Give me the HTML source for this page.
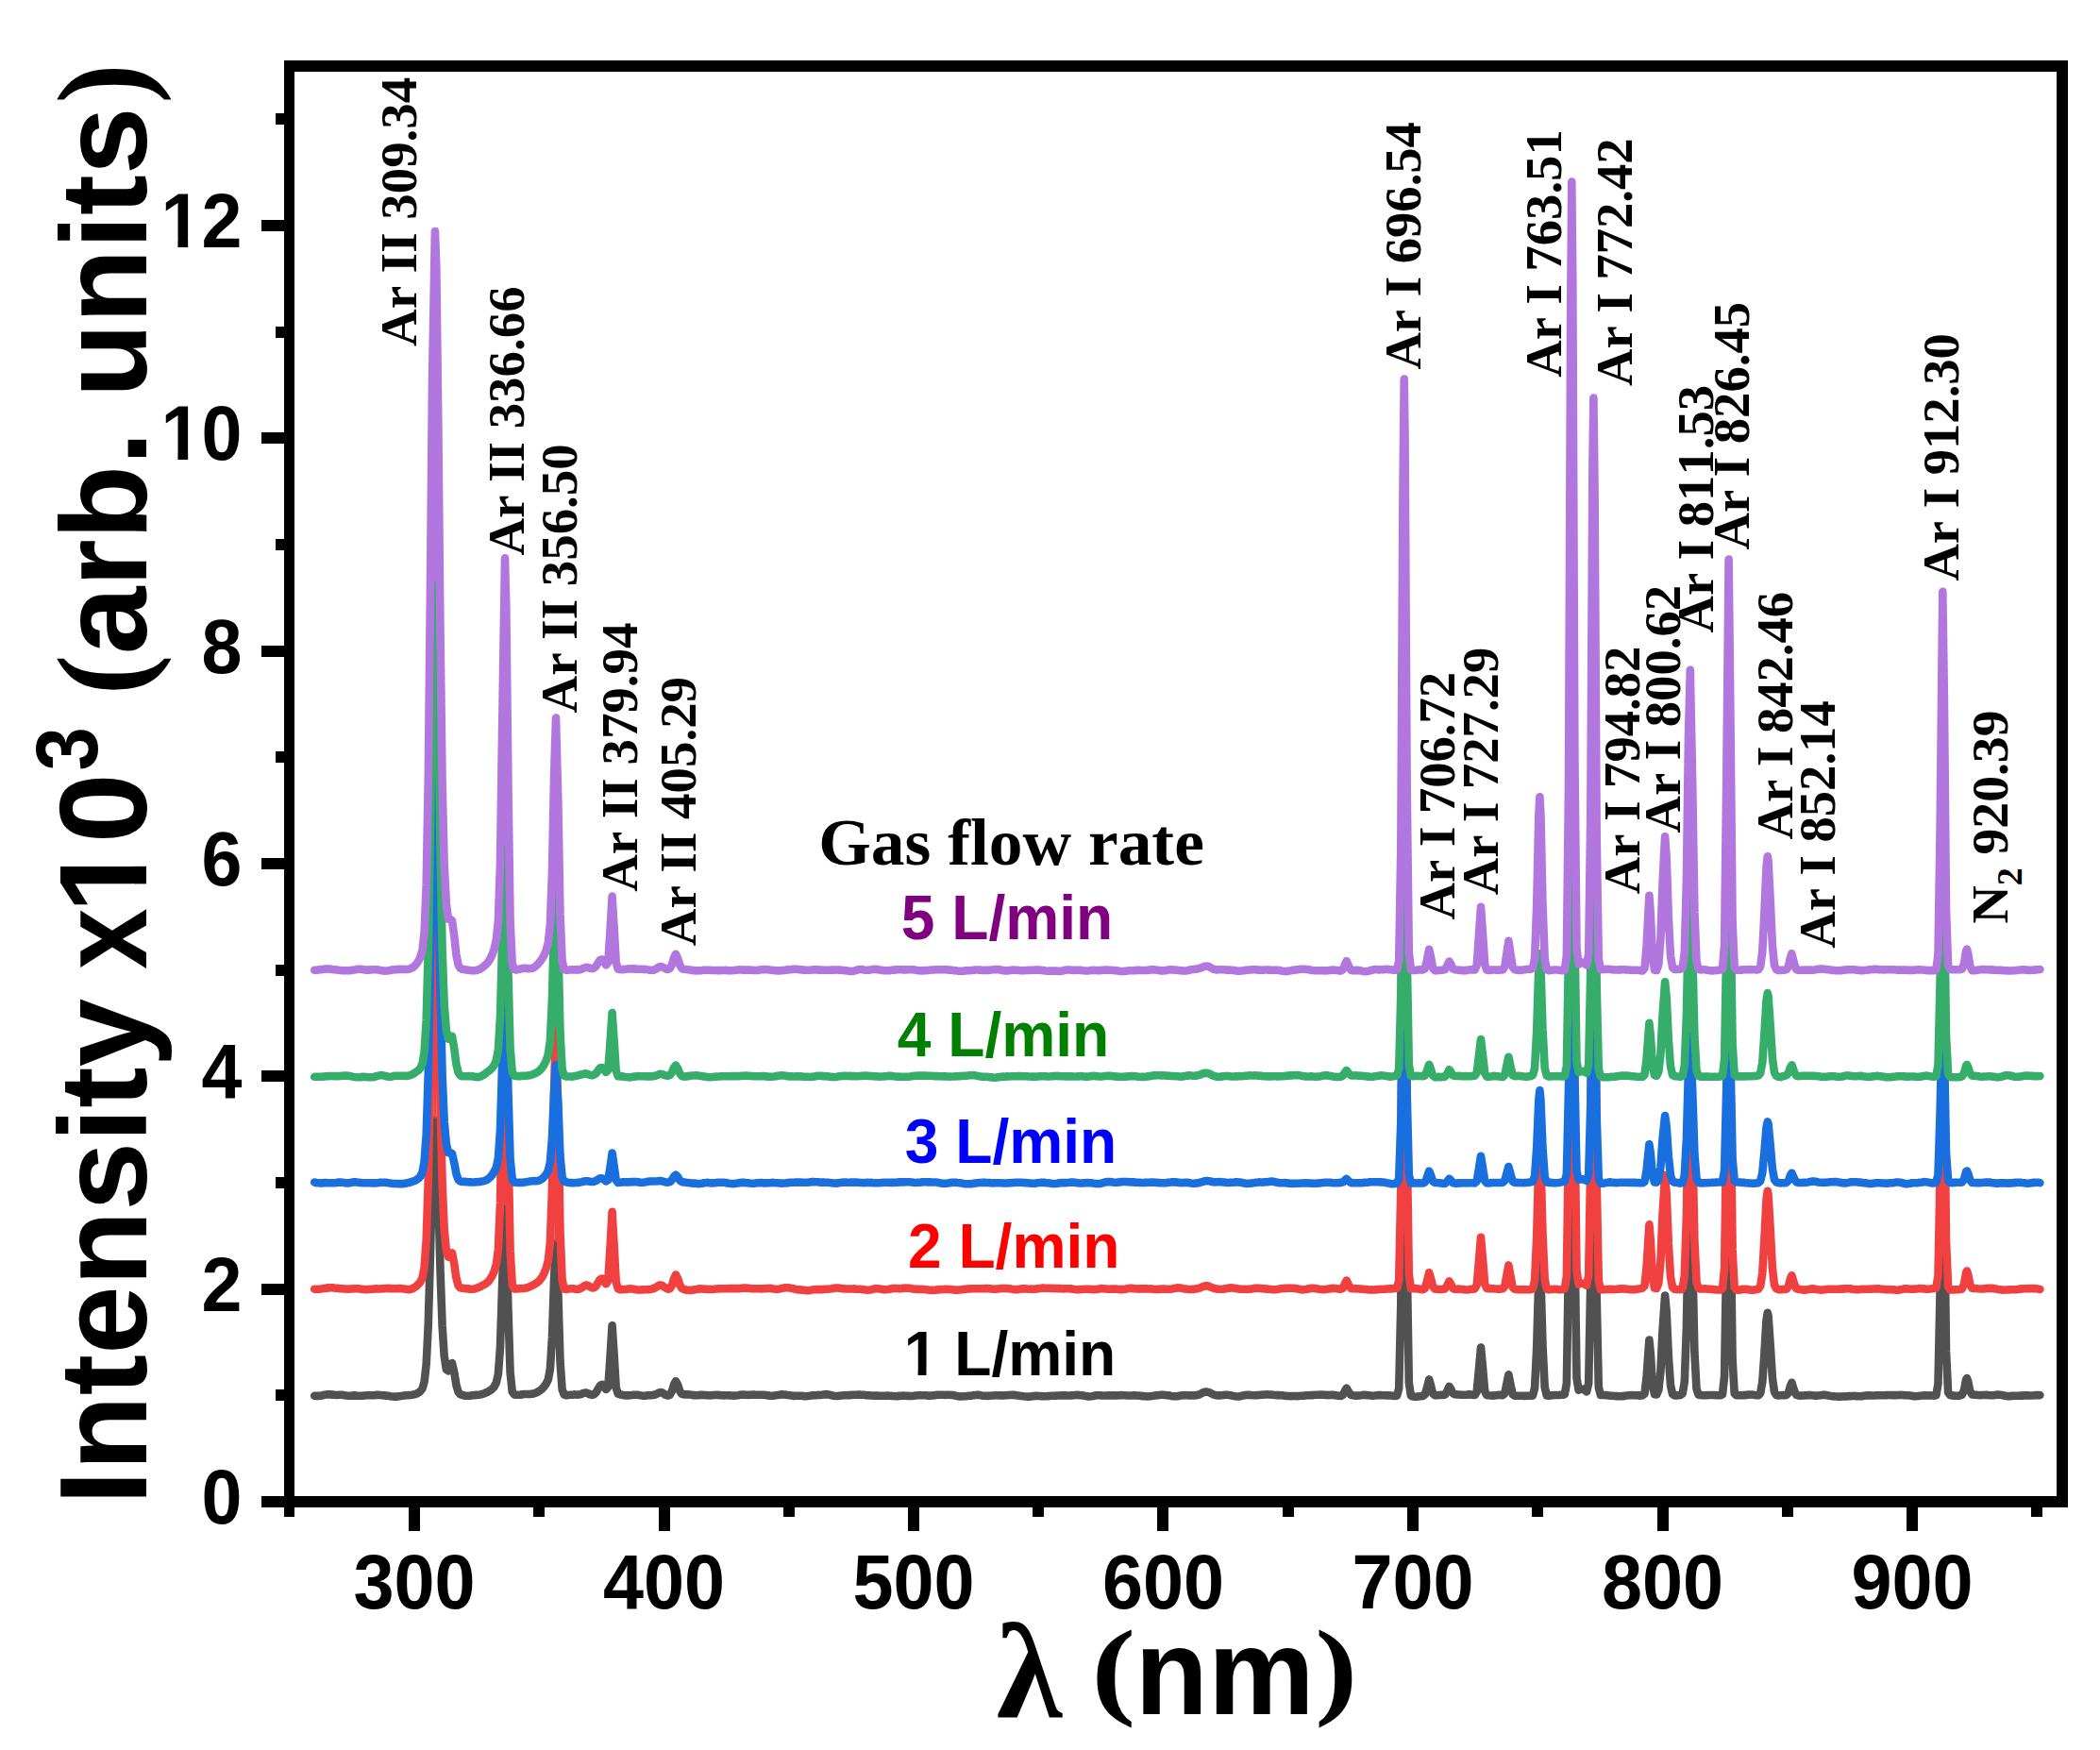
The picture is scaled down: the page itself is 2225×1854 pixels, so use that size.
<!DOCTYPE html>
<html lang="en"><head><meta charset="utf-8"><title>Optical emission spectra</title>
<style>html,body{margin:0;padding:0;background:#fff}body{width:2225px;height:1854px;overflow:hidden}svg{display:block}text{font-kerning:none}</style></head><body>
<svg width="2225" height="1854" viewBox="0 0 2225 1854">
<rect width="2225" height="1854" fill="#fff"/>
<g id="curves">
<polyline fill="none" stroke="#515151" stroke-width="8.6" stroke-linejoin="round" stroke-linecap="round" points="333.2,1478.7 335.3,1478.9 337.4,1478.9 339.5,1478.7 341.7,1478.3 343.8,1477.8 345.9,1477.4 348.0,1477.2 350.1,1477.4 352.2,1477.6 354.4,1477.8 356.5,1478.0 358.6,1477.8 360.7,1477.8 362.8,1477.8 364.9,1478.2 367.1,1478.5 369.2,1478.7 371.3,1478.8 373.4,1478.6 375.5,1478.4 377.6,1478.6 379.8,1478.7 381.9,1478.7 384.0,1478.8 386.1,1478.5 388.2,1478.3 390.3,1478.3 392.4,1478.3 394.6,1478.2 396.7,1478.1 398.8,1477.9 400.9,1477.8 403.0,1478.0 405.1,1478.2 407.3,1478.4 409.4,1478.6 411.5,1478.8 413.6,1479.2 415.7,1479.5 417.8,1479.6 420.0,1479.6 422.1,1479.4 424.2,1479.0 426.3,1478.8 428.4,1478.5 430.5,1478.2 432.7,1478.1 434.8,1478.0 436.9,1477.7 439.0,1477.3 441.1,1476.7 443.2,1475.5 445.3,1474.0 447.5,1471.1 449.6,1463.9 451.7,1444.9 453.8,1402.2 455.9,1330.2 458.0,1245.9 460.9,1186.5 462.3,1200.4 464.4,1265.5 466.5,1345.2 468.6,1404.5 470.7,1436.7 472.9,1450.8 475.0,1452.4 477.1,1446.3 479.0,1444.1 481.3,1454.1 483.4,1467.2 485.6,1474.7 487.7,1477.2 489.8,1477.9 491.9,1478.5 494.0,1478.8 496.1,1478.8 498.2,1478.7 500.4,1478.3 502.5,1478.1 504.6,1477.9 506.7,1477.7 508.8,1477.5 510.9,1477.0 513.1,1476.2 515.2,1475.3 517.3,1474.3 519.4,1473.1 521.5,1471.5 523.6,1469.1 525.8,1465.0 527.9,1455.6 530.0,1426.9 532.1,1361.3 535.0,1277.5 536.3,1300.4 538.5,1389.4 540.6,1454.0 542.7,1474.3 544.8,1477.5 546.9,1477.8 549.0,1477.7 551.1,1477.6 553.3,1477.4 555.4,1477.0 557.5,1477.0 559.6,1477.0 561.7,1476.9 563.8,1476.7 566.0,1476.2 568.1,1475.5 570.2,1474.4 572.3,1473.0 574.4,1471.3 576.5,1468.9 578.7,1465.9 580.8,1461.6 582.9,1450.3 585.0,1416.2 587.1,1354.2 589.0,1316.9 591.4,1371.6 593.5,1442.1 595.6,1472.0 597.7,1477.6 599.8,1478.2 601.9,1478.0 604.0,1477.8 606.2,1477.7 608.3,1477.4 610.4,1477.5 612.5,1477.6 614.6,1477.3 616.7,1476.6 618.9,1475.7 621.0,1475.4 623.1,1476.2 625.2,1477.4 627.3,1477.9 629.4,1477.4 631.6,1475.1 633.7,1471.4 635.8,1468.0 637.9,1466.8 640.0,1468.8 642.1,1472.0 644.3,1469.6 646.4,1439.8 648.6,1404.2 650.6,1435.0 652.7,1469.9 654.8,1476.7 656.9,1477.3 659.1,1477.8 661.2,1478.2 663.3,1478.4 665.4,1478.4 667.5,1478.2 669.6,1478.0 671.8,1477.8 673.9,1477.8 676.0,1477.9 678.1,1478.3 680.2,1478.6 682.3,1478.7 684.5,1478.6 686.6,1478.3 688.7,1478.2 690.8,1478.1 692.9,1477.8 695.0,1477.2 697.2,1476.0 699.3,1475.1 701.4,1475.3 703.5,1476.7 705.6,1477.9 707.7,1478.5 709.8,1477.7 712.0,1473.7 714.1,1466.8 716.0,1463.2 718.3,1467.6 720.4,1474.0 722.5,1476.9 724.7,1477.4 726.8,1477.3 728.9,1477.4 731.0,1477.5 733.1,1477.9 735.2,1478.1 737.4,1478.2 739.5,1478.1 741.6,1477.9 743.7,1477.7 745.8,1478.0 747.9,1478.1 750.1,1478.3 752.2,1478.4 754.3,1478.1 756.4,1478.0 758.5,1477.8 760.6,1477.9 762.7,1478.1 764.9,1478.3 767.0,1478.4 769.1,1478.3 771.2,1478.3 773.3,1478.4 775.4,1478.5 777.6,1478.6 779.7,1478.5 781.8,1478.2 783.9,1477.8 786.0,1477.6 788.1,1477.6 790.3,1477.7 792.4,1477.9 794.5,1477.7 796.6,1477.6 798.7,1477.6 800.8,1477.7 803.0,1477.8 805.1,1477.8 807.2,1477.8 809.3,1477.8 811.4,1478.1 813.5,1478.4 815.6,1478.6 817.8,1478.7 819.9,1478.6 822.0,1478.3 824.1,1478.0 826.2,1477.6 828.3,1477.4 830.5,1477.5 832.6,1477.6 834.7,1478.0 836.8,1478.3 838.9,1478.6 841.0,1478.9 843.2,1478.7 845.3,1478.7 847.4,1478.7 849.5,1478.7 851.6,1479.1 853.7,1479.2 855.9,1479.0 858.0,1478.8 860.1,1478.4 862.2,1478.2 864.3,1478.2 866.4,1477.9 868.5,1478.0 870.7,1477.7 872.8,1477.4 874.9,1477.4 877.0,1477.3 879.1,1477.7 881.2,1478.3 883.4,1478.7 885.5,1479.0 887.6,1479.0 889.7,1478.6 891.8,1478.5 893.9,1478.3 896.1,1478.2 898.2,1478.1 900.3,1478.1 902.4,1477.9 904.5,1477.8 906.6,1477.7 908.8,1477.5 910.9,1477.6 913.0,1477.7 915.1,1477.8 917.2,1478.1 919.3,1478.3 921.4,1478.4 923.6,1478.5 925.7,1478.6 927.8,1478.6 929.9,1478.6 932.0,1478.7 934.1,1478.8 936.3,1478.8 938.4,1478.8 940.5,1478.6 942.6,1478.7 944.7,1478.9 946.8,1479.0 949.0,1479.3 951.1,1479.1 953.2,1478.9 955.3,1478.8 957.4,1478.6 959.5,1478.8 961.7,1478.9 963.8,1479.0 965.9,1479.0 968.0,1478.8 970.1,1478.5 972.2,1478.3 974.3,1478.2 976.5,1478.3 978.6,1478.3 980.7,1478.3 982.8,1478.6 984.9,1478.6 987.0,1478.5 989.2,1478.4 991.3,1478.1 993.4,1477.8 995.5,1477.7 997.6,1477.8 999.7,1477.8 1001.9,1478.0 1004.0,1477.8 1006.1,1477.7 1008.2,1478.0 1010.3,1478.1 1012.4,1478.7 1014.6,1479.1 1016.7,1479.4 1018.8,1479.5 1020.9,1479.3 1023.0,1479.2 1025.1,1478.9 1027.2,1478.8 1029.4,1478.7 1031.5,1478.1 1033.6,1478.0 1035.7,1477.9 1037.8,1477.9 1039.9,1478.4 1042.1,1478.7 1044.2,1478.8 1046.3,1478.9 1048.4,1478.7 1050.5,1478.5 1052.6,1478.5 1054.8,1478.2 1056.9,1478.3 1059.0,1478.4 1061.1,1478.3 1063.2,1478.5 1065.3,1478.3 1067.5,1478.1 1069.6,1478.0 1071.7,1477.8 1073.8,1477.9 1075.9,1478.1 1078.0,1478.4 1080.1,1478.7 1082.3,1479.0 1084.4,1479.3 1086.5,1479.5 1088.6,1479.6 1090.7,1479.7 1092.8,1479.3 1095.0,1479.1 1097.1,1478.9 1099.2,1478.8 1101.3,1479.0 1103.4,1479.1 1105.5,1479.2 1107.7,1479.2 1109.8,1479.1 1111.9,1479.0 1114.0,1478.8 1116.1,1478.7 1118.2,1478.7 1120.4,1478.5 1122.5,1478.5 1124.6,1478.4 1126.7,1478.4 1128.8,1478.3 1130.9,1478.5 1133.0,1478.5 1135.2,1478.4 1137.3,1478.3 1139.4,1478.0 1141.5,1477.9 1143.6,1478.1 1145.7,1478.2 1147.9,1478.6 1150.0,1478.9 1152.1,1479.4 1154.2,1479.5 1156.3,1479.3 1158.4,1479.0 1160.6,1478.4 1162.7,1478.2 1164.8,1478.2 1166.9,1478.4 1169.0,1478.5 1171.1,1478.5 1173.3,1478.4 1175.4,1478.2 1177.5,1478.4 1179.6,1478.4 1181.7,1478.4 1183.8,1478.5 1185.9,1478.2 1188.1,1478.1 1190.2,1478.2 1192.3,1478.3 1194.4,1478.5 1196.5,1478.5 1198.6,1478.5 1200.8,1478.4 1202.9,1478.4 1205.0,1478.5 1207.1,1478.6 1209.2,1478.9 1211.3,1479.1 1213.5,1479.3 1215.6,1479.5 1217.7,1479.3 1219.8,1479.1 1221.9,1478.8 1224.0,1478.4 1226.2,1478.2 1228.3,1478.0 1230.4,1477.8 1232.5,1477.8 1234.6,1478.0 1236.7,1478.2 1238.8,1478.4 1241.0,1478.9 1243.1,1479.2 1245.2,1479.2 1247.3,1479.2 1249.4,1478.8 1251.5,1478.4 1253.7,1478.2 1255.8,1478.1 1257.9,1478.2 1260.0,1478.4 1262.1,1478.4 1264.2,1478.4 1266.4,1478.4 1268.5,1478.0 1270.6,1477.4 1272.7,1476.4 1274.8,1475.3 1276.9,1474.5 1278.9,1474.6 1281.2,1475.1 1283.3,1476.2 1285.4,1477.3 1287.5,1478.0 1289.6,1478.4 1291.7,1478.4 1293.9,1478.3 1296.0,1478.0 1298.1,1477.8 1300.2,1477.8 1302.3,1478.0 1304.4,1478.3 1306.6,1478.9 1308.7,1479.3 1310.8,1479.5 1312.9,1479.5 1315.0,1478.9 1317.1,1478.5 1319.3,1478.0 1321.4,1477.8 1323.5,1477.9 1325.6,1478.0 1327.7,1478.2 1329.8,1478.3 1332.0,1478.1 1334.1,1478.0 1336.2,1477.8 1338.3,1477.6 1340.4,1477.5 1342.5,1477.4 1344.6,1477.5 1346.8,1477.6 1348.9,1477.8 1351.0,1478.0 1353.1,1478.1 1355.2,1478.1 1357.3,1478.3 1359.5,1478.4 1361.6,1478.7 1363.7,1479.0 1365.8,1479.0 1367.9,1479.1 1370.0,1479.0 1372.2,1479.0 1374.3,1479.1 1376.4,1479.0 1378.5,1478.8 1380.6,1478.7 1382.7,1478.4 1384.9,1478.3 1387.0,1478.3 1389.1,1478.0 1391.2,1478.1 1393.3,1477.8 1395.4,1477.7 1397.5,1477.7 1399.7,1477.5 1401.8,1477.8 1403.9,1477.9 1406.0,1477.9 1408.1,1478.1 1410.2,1477.8 1412.4,1477.9 1414.5,1478.1 1416.6,1478.4 1418.7,1478.7 1420.8,1478.9 1422.9,1477.8 1425.1,1473.3 1426.7,1470.6 1429.3,1475.1 1431.4,1477.9 1433.5,1478.3 1435.6,1478.6 1437.8,1478.6 1439.9,1478.5 1442.0,1478.3 1444.1,1477.9 1446.2,1477.9 1448.3,1478.1 1450.4,1478.3 1452.6,1478.6 1454.7,1478.7 1456.8,1478.5 1458.9,1478.3 1461.0,1478.1 1463.1,1478.1 1465.3,1478.3 1467.4,1478.3 1469.5,1478.4 1471.6,1478.4 1473.7,1478.5 1475.8,1478.8 1478.0,1478.9 1480.1,1478.7 1482.2,1471.2 1484.3,1381.5 1486.4,1103.2 1487.7,1008.9 1488.5,1052.0 1490.7,1336.3 1492.8,1464.8 1494.9,1478.7 1497.0,1479.5 1499.1,1479.7 1501.2,1479.6 1503.3,1479.4 1505.5,1479.1 1507.6,1478.9 1509.7,1477.5 1511.8,1470.7 1514.2,1461.4 1516.0,1467.7 1518.2,1476.5 1520.3,1478.2 1522.4,1478.2 1524.5,1478.0 1526.6,1477.9 1528.7,1478.0 1530.9,1477.6 1533.0,1474.3 1535.5,1468.8 1537.2,1471.5 1539.3,1476.0 1541.4,1477.2 1543.6,1477.4 1545.7,1477.5 1547.8,1477.8 1549.9,1477.8 1552.0,1477.7 1554.1,1477.6 1556.2,1477.4 1558.4,1477.4 1560.5,1477.7 1562.6,1478.0 1564.7,1474.5 1566.8,1451.9 1569.0,1427.5 1571.1,1450.0 1573.2,1473.9 1575.3,1478.2 1577.4,1478.3 1579.5,1478.5 1581.6,1478.6 1583.8,1478.4 1585.9,1478.1 1588.0,1477.9 1590.1,1477.9 1592.2,1478.1 1594.3,1476.2 1596.5,1465.3 1598.4,1456.3 1600.7,1467.9 1602.8,1477.3 1604.9,1478.8 1607.0,1478.8 1609.1,1478.8 1611.3,1478.8 1613.4,1478.8 1615.5,1478.9 1617.6,1478.7 1619.7,1478.7 1621.8,1478.8 1624.0,1478.4 1626.1,1470.3 1628.2,1427.7 1630.3,1353.9 1631.4,1338.4 1632.4,1352.3 1634.5,1425.6 1636.7,1469.8 1638.8,1478.4 1640.9,1478.7 1643.0,1478.4 1645.1,1478.2 1647.2,1478.0 1649.4,1478.0 1651.5,1478.0 1653.6,1477.8 1655.7,1477.7 1657.8,1477.3 1659.9,1465.5 1662.0,1332.2 1664.2,958.5 1665.3,858.0 1666.3,934.3 1668.4,1310.2 1670.5,1459.9 1672.6,1472.7 1674.7,1471.7 1676.5,1471.5 1679.0,1472.7 1681.1,1474.4 1683.2,1465.5 1685.3,1354.7 1687.4,1081.5 1688.4,1028.2 1689.6,1103.5 1691.7,1374.8 1693.8,1469.9 1695.9,1477.9 1698.0,1477.9 1700.1,1478.0 1702.3,1478.1 1704.4,1478.4 1706.5,1478.7 1708.6,1478.8 1710.7,1479.0 1712.8,1479.1 1714.9,1479.3 1717.1,1479.3 1719.2,1479.1 1721.3,1478.9 1723.4,1478.5 1725.5,1478.3 1727.6,1478.2 1729.8,1478.1 1731.9,1478.2 1734.0,1478.3 1736.1,1478.4 1738.2,1478.6 1740.3,1478.3 1742.5,1476.4 1744.6,1458.7 1747.4,1419.6 1748.8,1433.6 1750.9,1467.4 1753.0,1477.2 1755.2,1477.4 1757.3,1472.8 1759.4,1453.2 1761.5,1410.0 1764.1,1372.5 1765.7,1389.6 1767.8,1436.4 1770.0,1467.7 1772.1,1477.0 1774.2,1478.4 1776.3,1478.4 1778.4,1478.1 1780.5,1477.9 1782.7,1476.4 1784.8,1463.9 1786.9,1406.5 1789.0,1294.0 1790.8,1241.4 1793.2,1330.7 1795.4,1432.8 1797.5,1471.4 1799.6,1477.7 1801.7,1478.0 1803.8,1478.1 1805.9,1478.2 1808.1,1478.2 1810.2,1478.0 1812.3,1478.0 1814.4,1478.0 1816.5,1478.0 1818.6,1478.3 1820.7,1478.3 1822.9,1478.2 1825.0,1477.3 1827.1,1457.8 1829.2,1328.5 1831.6,1151.4 1833.4,1273.2 1835.6,1440.2 1837.7,1476.4 1839.8,1478.3 1841.9,1478.3 1844.0,1478.3 1846.1,1478.1 1848.3,1478.1 1850.4,1477.9 1852.5,1477.6 1854.6,1477.5 1856.7,1477.5 1858.8,1477.9 1861.0,1478.3 1863.1,1478.3 1865.2,1475.9 1867.3,1464.1 1869.4,1434.2 1871.5,1398.6 1872.8,1390.7 1873.6,1394.5 1875.8,1426.6 1877.9,1459.8 1880.0,1474.7 1882.1,1478.1 1884.2,1478.5 1886.3,1478.3 1888.5,1478.1 1890.6,1478.1 1892.7,1477.9 1894.8,1475.9 1896.9,1468.4 1898.4,1464.8 1901.2,1473.7 1903.3,1477.9 1905.4,1478.4 1907.5,1478.6 1909.6,1478.5 1911.7,1478.4 1913.9,1478.2 1916.0,1478.1 1918.1,1478.1 1920.2,1478.2 1922.3,1478.6 1924.4,1478.6 1926.5,1478.5 1928.7,1478.2 1930.8,1477.9 1932.9,1477.7 1935.0,1478.0 1937.1,1478.5 1939.2,1478.9 1941.4,1479.3 1943.5,1479.4 1945.6,1479.5 1947.7,1479.6 1949.8,1479.6 1951.9,1479.5 1954.1,1479.4 1956.2,1479.4 1958.3,1479.1 1960.4,1479.1 1962.5,1479.0 1964.6,1478.9 1966.8,1479.1 1968.9,1479.3 1971.0,1479.3 1973.1,1479.1 1975.2,1478.7 1977.3,1478.4 1979.4,1478.4 1981.6,1478.4 1983.7,1478.5 1985.8,1478.5 1987.9,1478.2 1990.0,1478.2 1992.1,1478.2 1994.3,1478.2 1996.4,1478.3 1998.5,1478.1 2000.6,1478.0 2002.7,1478.0 2004.8,1478.1 2007.0,1478.1 2009.1,1478.1 2011.2,1478.0 2013.3,1477.9 2015.4,1478.0 2017.5,1478.1 2019.7,1478.2 2021.8,1478.3 2023.9,1478.6 2026.0,1478.9 2028.1,1479.1 2030.2,1479.2 2032.3,1479.0 2034.5,1478.7 2036.6,1478.5 2038.7,1478.4 2040.8,1478.3 2042.9,1478.5 2045.0,1478.4 2047.2,1478.5 2049.3,1478.6 2051.4,1478.2 2053.5,1465.9 2055.6,1366.9 2058.3,1180.2 2059.9,1264.3 2062.0,1431.4 2064.1,1475.2 2066.2,1478.1 2068.3,1478.4 2070.4,1478.6 2072.6,1478.7 2074.7,1478.6 2076.8,1478.4 2078.9,1477.7 2081.0,1472.7 2083.1,1461.7 2084.0,1460.1 2085.2,1463.5 2087.4,1474.1 2089.5,1477.5 2091.6,1477.7 2093.7,1477.7 2095.8,1478.0 2097.9,1478.1 2100.1,1478.0 2102.2,1478.0 2104.3,1477.9 2106.4,1478.0 2108.5,1478.2 2110.6,1478.2 2112.8,1478.1 2114.9,1477.8 2117.0,1477.6 2119.1,1477.7 2121.2,1478.0 2123.3,1478.6 2125.5,1479.0 2127.6,1479.1 2129.7,1479.1 2131.8,1478.9 2133.9,1478.7 2136.0,1478.7 2138.1,1478.7 2140.3,1478.6 2142.4,1478.6 2144.5,1478.4 2146.6,1478.3 2148.7,1478.4 2150.8,1478.5 2153.0,1478.5 2155.1,1478.3 2157.2,1478.1 2159.3,1478.0 2161.4,1478.1"/>
<polyline fill="none" stroke="#F14040" stroke-width="8.6" stroke-linejoin="round" stroke-linecap="round" points="333.2,1365.7 335.3,1365.8 337.4,1365.7 339.5,1365.6 341.7,1365.3 343.8,1364.9 345.9,1364.6 348.0,1364.4 350.1,1364.2 352.2,1364.3 354.4,1364.6 356.5,1364.7 358.6,1365.1 360.7,1365.2 362.8,1365.3 364.9,1365.5 367.1,1365.5 369.2,1365.6 371.3,1365.5 373.4,1365.4 375.5,1365.2 377.6,1365.2 379.8,1365.3 381.9,1365.6 384.0,1365.9 386.1,1366.0 388.2,1366.1 390.3,1366.0 392.4,1365.7 394.6,1365.7 396.7,1365.4 398.8,1365.4 400.9,1365.5 403.0,1365.5 405.1,1365.3 407.3,1365.1 409.4,1365.0 411.5,1364.9 413.6,1365.1 415.7,1365.3 417.8,1365.3 420.0,1365.2 422.1,1365.1 424.2,1365.0 426.3,1365.2 428.4,1365.5 430.5,1365.9 432.7,1366.1 434.8,1365.9 436.9,1365.3 439.0,1364.0 441.1,1362.6 443.2,1360.6 445.3,1358.3 447.5,1353.9 449.6,1342.9 451.7,1313.9 453.8,1249.0 455.9,1139.3 458.0,1011.3 460.9,921.5 462.3,942.9 464.4,1042.2 466.5,1163.4 468.6,1253.4 470.7,1302.5 472.9,1325.1 475.0,1331.6 477.1,1328.0 479.0,1327.3 481.3,1339.2 483.4,1353.8 485.6,1361.9 487.7,1364.3 489.8,1364.8 491.9,1364.9 494.0,1365.2 496.1,1365.4 498.2,1365.6 500.4,1365.7 502.5,1365.5 504.6,1364.9 506.7,1364.2 508.8,1363.2 510.9,1362.0 513.1,1360.9 515.2,1359.6 517.3,1357.7 519.4,1355.2 521.5,1351.6 523.6,1346.8 525.8,1339.6 527.9,1323.7 530.0,1274.4 532.1,1161.8 535.0,1017.4 536.3,1058.1 538.5,1213.0 540.6,1325.2 542.7,1360.3 544.8,1365.5 546.9,1365.5 549.0,1365.3 551.1,1365.1 553.3,1365.0 555.4,1364.9 557.5,1364.5 559.6,1363.9 561.7,1362.9 563.8,1362.0 566.0,1360.8 568.1,1359.6 570.2,1358.1 572.3,1355.8 574.4,1352.9 576.5,1348.9 578.7,1343.6 580.8,1335.7 582.9,1316.3 585.0,1258.1 587.1,1152.8 589.0,1090.2 591.4,1184.0 593.5,1304.6 595.6,1355.8 597.7,1365.3 599.8,1366.0 601.9,1365.6 604.0,1365.3 606.2,1365.3 608.3,1365.4 610.4,1365.7 612.5,1365.8 614.6,1365.3 616.7,1364.1 618.9,1362.5 621.0,1361.5 623.1,1361.9 625.2,1363.4 627.3,1364.4 629.4,1364.2 631.6,1362.3 633.7,1358.7 635.8,1355.4 637.9,1354.6 640.0,1356.9 642.1,1360.2 644.3,1357.0 646.4,1323.5 648.6,1283.9 650.6,1318.5 652.7,1357.8 654.8,1365.4 656.9,1366.1 659.1,1366.1 661.2,1366.0 663.3,1366.0 665.4,1365.5 667.5,1365.4 669.6,1365.5 671.8,1365.7 673.9,1366.2 676.0,1366.5 678.1,1366.5 680.2,1366.4 682.3,1366.3 684.5,1366.2 686.6,1366.1 688.7,1366.0 690.8,1365.6 692.9,1364.9 695.0,1363.8 697.2,1362.4 699.3,1361.4 701.4,1361.7 703.5,1363.2 705.6,1364.7 707.7,1365.7 709.8,1365.3 712.0,1361.6 714.1,1354.5 716.0,1350.5 718.3,1354.9 720.4,1361.6 722.5,1364.9 724.7,1366.0 726.8,1366.5 728.9,1366.8 731.0,1366.9 733.1,1366.9 735.2,1366.4 737.4,1366.0 739.5,1365.6 741.6,1365.4 743.7,1365.5 745.8,1365.6 747.9,1365.8 750.1,1365.9 752.2,1365.9 754.3,1366.0 756.4,1365.8 758.5,1365.5 760.6,1365.4 762.7,1365.2 764.9,1365.3 767.0,1365.3 769.1,1365.3 771.2,1365.3 773.3,1365.1 775.4,1365.0 777.6,1365.1 779.7,1365.1 781.8,1365.1 783.9,1365.1 786.0,1364.8 788.1,1364.6 790.3,1364.6 792.4,1364.7 794.5,1365.0 796.6,1365.2 798.7,1365.3 800.8,1365.3 803.0,1365.3 805.1,1365.3 807.2,1365.4 809.3,1365.3 811.4,1365.1 813.5,1365.0 815.6,1364.9 817.8,1365.1 819.9,1365.5 822.0,1365.7 824.1,1365.7 826.2,1365.4 828.3,1364.9 830.5,1364.6 832.6,1364.3 834.7,1364.3 836.8,1364.5 838.9,1364.9 841.0,1365.3 843.2,1365.9 845.3,1366.2 847.4,1366.4 849.5,1366.6 851.6,1366.8 853.7,1367.1 855.9,1367.2 858.0,1367.0 860.1,1366.6 862.2,1366.3 864.3,1366.1 866.4,1366.1 868.5,1366.1 870.7,1366.1 872.8,1365.9 874.9,1365.8 877.0,1365.7 879.1,1365.5 881.2,1365.2 883.4,1364.8 885.5,1364.5 887.6,1364.5 889.7,1364.8 891.8,1365.1 893.9,1365.3 896.1,1365.5 898.2,1365.5 900.3,1365.5 902.4,1365.5 904.5,1365.4 906.6,1365.6 908.8,1365.7 910.9,1365.8 913.0,1366.0 915.1,1366.2 917.2,1366.5 919.3,1366.7 921.4,1366.5 923.6,1366.2 925.7,1365.6 927.8,1365.3 929.9,1365.3 932.0,1365.5 934.1,1365.8 936.3,1366.2 938.4,1366.2 940.5,1366.0 942.6,1365.7 944.7,1365.2 946.8,1364.9 949.0,1365.0 951.1,1365.0 953.2,1365.2 955.3,1365.1 957.4,1364.8 959.5,1364.6 961.7,1364.7 963.8,1364.8 965.9,1365.2 968.0,1365.6 970.1,1365.8 972.2,1365.9 974.3,1365.9 976.5,1365.8 978.6,1366.0 980.7,1366.3 982.8,1366.4 984.9,1366.7 987.0,1366.9 989.2,1366.7 991.3,1366.6 993.4,1366.4 995.5,1366.1 997.6,1366.1 999.7,1366.0 1001.9,1365.9 1004.0,1365.9 1006.1,1366.0 1008.2,1366.1 1010.3,1366.4 1012.4,1366.6 1014.6,1366.6 1016.7,1366.5 1018.8,1366.2 1020.9,1365.9 1023.0,1365.7 1025.1,1365.5 1027.2,1365.4 1029.4,1365.3 1031.5,1365.2 1033.6,1365.2 1035.7,1365.2 1037.8,1365.2 1039.9,1365.2 1042.1,1365.2 1044.2,1365.1 1046.3,1365.1 1048.4,1365.2 1050.5,1365.4 1052.6,1365.7 1054.8,1365.6 1056.9,1365.5 1059.0,1365.3 1061.1,1365.0 1063.2,1365.0 1065.3,1365.0 1067.5,1365.1 1069.6,1365.3 1071.7,1365.6 1073.8,1366.0 1075.9,1366.1 1078.0,1366.2 1080.1,1365.8 1082.3,1365.4 1084.4,1365.4 1086.5,1365.2 1088.6,1365.5 1090.7,1365.7 1092.8,1365.6 1095.0,1365.8 1097.1,1365.6 1099.2,1365.2 1101.3,1365.1 1103.4,1364.8 1105.5,1364.6 1107.7,1364.7 1109.8,1364.7 1111.9,1364.7 1114.0,1365.0 1116.1,1364.9 1118.2,1365.0 1120.4,1365.1 1122.5,1365.1 1124.6,1365.3 1126.7,1365.4 1128.8,1365.3 1130.9,1365.2 1133.0,1365.2 1135.2,1365.4 1137.3,1365.7 1139.4,1366.1 1141.5,1366.2 1143.6,1366.1 1145.7,1366.0 1147.9,1365.8 1150.0,1365.7 1152.1,1365.8 1154.2,1365.8 1156.3,1365.9 1158.4,1366.1 1160.6,1366.0 1162.7,1365.7 1164.8,1365.4 1166.9,1365.1 1169.0,1365.2 1171.1,1365.5 1173.3,1365.6 1175.4,1365.7 1177.5,1365.6 1179.6,1365.5 1181.7,1365.6 1183.8,1365.7 1185.9,1365.9 1188.1,1366.1 1190.2,1365.9 1192.3,1365.7 1194.4,1365.3 1196.5,1364.9 1198.6,1364.9 1200.8,1365.1 1202.9,1365.3 1205.0,1365.6 1207.1,1365.4 1209.2,1365.3 1211.3,1365.4 1213.5,1365.3 1215.6,1365.4 1217.7,1365.5 1219.8,1365.4 1221.9,1365.7 1224.0,1365.9 1226.2,1365.9 1228.3,1365.9 1230.4,1365.6 1232.5,1365.5 1234.6,1365.6 1236.7,1365.7 1238.8,1365.8 1241.0,1365.6 1243.1,1365.2 1245.2,1364.8 1247.3,1364.4 1249.4,1364.5 1251.5,1364.6 1253.7,1365.2 1255.8,1365.5 1257.9,1365.8 1260.0,1366.0 1262.1,1365.9 1264.2,1365.9 1266.4,1365.6 1268.5,1365.3 1270.6,1364.7 1272.7,1363.9 1274.8,1363.0 1276.9,1362.3 1278.9,1362.3 1281.2,1362.8 1283.3,1363.8 1285.4,1364.6 1287.5,1365.2 1289.6,1365.6 1291.7,1365.7 1293.9,1365.8 1296.0,1365.7 1298.1,1365.3 1300.2,1364.9 1302.3,1364.6 1304.4,1364.4 1306.6,1364.5 1308.7,1364.9 1310.8,1365.3 1312.9,1365.6 1315.0,1365.7 1317.1,1365.7 1319.3,1365.8 1321.4,1365.9 1323.5,1365.8 1325.6,1365.6 1327.7,1365.2 1329.8,1364.8 1332.0,1364.7 1334.1,1364.7 1336.2,1365.0 1338.3,1365.3 1340.4,1365.4 1342.5,1365.6 1344.6,1365.8 1346.8,1366.0 1348.9,1366.2 1351.0,1366.3 1353.1,1366.0 1355.2,1365.6 1357.3,1365.3 1359.5,1365.0 1361.6,1364.9 1363.7,1364.8 1365.8,1364.8 1367.9,1364.8 1370.0,1364.8 1372.2,1365.0 1374.3,1365.3 1376.4,1365.8 1378.5,1366.3 1380.6,1366.4 1382.7,1366.0 1384.9,1365.7 1387.0,1365.2 1389.1,1364.8 1391.2,1364.9 1393.3,1365.0 1395.4,1365.2 1397.5,1365.8 1399.7,1366.0 1401.8,1366.1 1403.9,1366.1 1406.0,1365.7 1408.1,1365.4 1410.2,1365.1 1412.4,1364.9 1414.5,1365.0 1416.6,1365.2 1418.7,1365.6 1420.8,1365.7 1422.9,1364.6 1425.1,1359.7 1426.7,1356.6 1429.3,1362.0 1431.4,1364.9 1433.5,1365.2 1435.6,1365.3 1437.8,1365.3 1439.9,1365.5 1442.0,1365.6 1444.1,1365.8 1446.2,1366.0 1448.3,1366.1 1450.4,1366.5 1452.6,1366.4 1454.7,1366.5 1456.8,1366.4 1458.9,1366.1 1461.0,1366.1 1463.1,1365.8 1465.3,1365.7 1467.4,1365.7 1469.5,1365.5 1471.6,1365.4 1473.7,1365.4 1475.8,1365.1 1478.0,1365.0 1480.1,1364.7 1482.2,1356.7 1484.3,1259.3 1486.4,955.3 1487.7,852.5 1488.5,899.6 1490.7,1210.5 1492.8,1350.5 1494.9,1365.1 1497.0,1365.3 1499.1,1365.1 1501.2,1365.2 1503.3,1365.5 1505.5,1365.9 1507.6,1366.1 1509.7,1365.0 1511.8,1357.8 1514.2,1348.2 1516.0,1354.4 1518.2,1363.2 1520.3,1365.5 1522.4,1365.8 1524.5,1365.9 1526.6,1366.0 1528.7,1365.8 1530.9,1365.4 1533.0,1362.3 1535.5,1357.4 1537.2,1360.2 1539.3,1364.8 1541.4,1365.8 1543.6,1365.7 1545.7,1365.6 1547.8,1365.7 1549.9,1366.1 1552.0,1366.3 1554.1,1366.5 1556.2,1366.3 1558.4,1365.8 1560.5,1365.7 1562.6,1365.4 1564.7,1361.3 1566.8,1337.0 1569.0,1310.7 1571.1,1335.1 1573.2,1360.5 1575.3,1365.0 1577.4,1365.2 1579.5,1365.1 1581.6,1365.3 1583.8,1365.5 1585.9,1365.5 1588.0,1365.6 1590.1,1365.6 1592.2,1365.3 1594.3,1362.7 1596.5,1350.6 1598.4,1340.4 1600.7,1353.3 1602.8,1364.0 1604.9,1365.8 1607.0,1366.1 1609.1,1366.2 1611.3,1366.0 1613.4,1366.2 1615.5,1366.1 1617.6,1366.2 1619.7,1366.3 1621.8,1366.2 1624.0,1365.5 1626.1,1356.5 1628.2,1310.1 1630.3,1230.4 1631.4,1213.5 1632.4,1228.2 1634.5,1307.7 1636.7,1355.7 1638.8,1365.5 1640.9,1366.4 1643.0,1366.0 1645.1,1365.9 1647.2,1365.8 1649.4,1365.8 1651.5,1366.2 1653.6,1366.2 1655.7,1366.0 1657.8,1365.4 1659.9,1352.3 1662.0,1206.7 1664.2,798.9 1665.3,689.3 1666.3,772.6 1668.4,1182.7 1670.5,1346.5 1672.6,1360.7 1674.7,1359.7 1676.5,1359.5 1679.0,1360.5 1681.1,1361.8 1683.2,1351.3 1685.3,1229.3 1687.4,928.4 1688.4,869.8 1689.6,953.2 1691.7,1251.9 1693.8,1357.0 1695.9,1366.2 1698.0,1366.3 1700.1,1366.3 1702.3,1366.0 1704.4,1365.9 1706.5,1365.9 1708.6,1365.9 1710.7,1366.0 1712.8,1365.8 1714.9,1365.6 1717.1,1365.4 1719.2,1365.3 1721.3,1365.4 1723.4,1365.7 1725.5,1365.9 1727.6,1366.1 1729.8,1366.3 1731.9,1366.1 1734.0,1365.9 1736.1,1365.5 1738.2,1365.1 1740.3,1364.7 1742.5,1362.3 1744.6,1342.2 1747.4,1297.4 1748.8,1313.7 1750.9,1353.2 1753.0,1364.6 1755.2,1364.9 1757.3,1359.6 1759.4,1336.9 1761.5,1287.9 1764.1,1245.1 1765.7,1264.4 1767.8,1317.5 1770.0,1352.8 1772.1,1363.9 1774.2,1365.7 1776.3,1365.9 1778.4,1366.0 1780.5,1366.1 1782.7,1364.9 1784.8,1351.5 1786.9,1288.7 1789.0,1164.9 1790.8,1106.9 1793.2,1204.1 1795.4,1315.5 1797.5,1358.1 1799.6,1364.9 1801.7,1365.5 1803.8,1365.5 1805.9,1365.4 1808.1,1365.5 1810.2,1365.7 1812.3,1365.7 1814.4,1365.9 1816.5,1366.2 1818.6,1366.4 1820.7,1366.5 1822.9,1366.5 1825.0,1365.2 1827.1,1343.3 1829.2,1200.4 1831.6,1004.7 1833.4,1139.3 1835.6,1323.9 1837.7,1364.1 1839.8,1366.6 1841.9,1366.6 1844.0,1366.5 1846.1,1365.9 1848.3,1365.7 1850.4,1365.9 1852.5,1366.1 1854.6,1366.6 1856.7,1366.7 1858.8,1366.4 1861.0,1366.1 1863.1,1365.5 1865.2,1362.5 1867.3,1348.6 1869.4,1313.2 1871.5,1271.1 1872.8,1261.7 1873.6,1266.1 1875.8,1304.1 1877.9,1343.5 1880.0,1361.0 1882.1,1365.3 1884.2,1366.1 1886.3,1366.1 1888.5,1366.1 1890.6,1365.8 1892.7,1365.6 1894.8,1363.2 1896.9,1354.8 1898.4,1351.2 1901.2,1360.6 1903.3,1365.2 1905.4,1365.8 1907.5,1366.1 1909.6,1366.4 1911.7,1366.6 1913.9,1366.4 1916.0,1366.0 1918.1,1365.6 1920.2,1365.4 1922.3,1365.6 1924.4,1365.9 1926.5,1366.3 1928.7,1366.6 1930.8,1366.5 1932.9,1366.4 1935.0,1366.0 1937.1,1365.7 1939.2,1365.7 1941.4,1365.8 1943.5,1365.7 1945.6,1365.7 1947.7,1365.7 1949.8,1365.6 1951.9,1365.6 1954.1,1365.4 1956.2,1365.3 1958.3,1365.3 1960.4,1365.3 1962.5,1365.8 1964.6,1366.0 1966.8,1366.1 1968.9,1366.2 1971.0,1365.9 1973.1,1365.8 1975.2,1365.7 1977.3,1365.7 1979.4,1365.7 1981.6,1365.7 1983.7,1365.5 1985.8,1365.5 1987.9,1365.4 1990.0,1365.3 1992.1,1365.6 1994.3,1365.7 1996.4,1366.0 1998.5,1366.3 2000.6,1366.1 2002.7,1366.2 2004.8,1366.3 2007.0,1366.4 2009.1,1366.8 2011.2,1366.7 2013.3,1366.3 2015.4,1365.9 2017.5,1365.4 2019.7,1365.4 2021.8,1365.5 2023.9,1365.6 2026.0,1365.8 2028.1,1365.6 2030.2,1365.5 2032.3,1365.3 2034.5,1365.0 2036.6,1365.3 2038.7,1365.4 2040.8,1365.6 2042.9,1365.7 2045.0,1365.5 2047.2,1365.3 2049.3,1364.9 2051.4,1364.5 2053.5,1351.1 2055.6,1243.0 2058.3,1039.0 2059.9,1131.7 2062.0,1314.9 2064.1,1363.2 2066.2,1366.5 2068.3,1366.5 2070.4,1366.4 2072.6,1366.3 2074.7,1366.3 2076.8,1366.0 2078.9,1365.3 2081.0,1360.0 2083.1,1348.4 2084.0,1346.5 2085.2,1350.2 2087.4,1361.3 2089.5,1364.8 2091.6,1365.0 2093.7,1365.0 2095.8,1365.3 2097.9,1365.5 2100.1,1365.5 2102.2,1365.4 2104.3,1365.0 2106.4,1364.9 2108.5,1364.8 2110.6,1364.9 2112.8,1365.1 2114.9,1365.5 2117.0,1365.9 2119.1,1366.2 2121.2,1366.6 2123.3,1366.5 2125.5,1366.5 2127.6,1366.4 2129.7,1366.2 2131.8,1366.2 2133.9,1366.2 2136.0,1366.2 2138.1,1365.9 2140.3,1365.6 2142.4,1365.4 2144.5,1365.2 2146.6,1365.3 2148.7,1365.3 2150.8,1365.1 2153.0,1365.1 2155.1,1365.1 2157.2,1365.2 2159.3,1365.6 2161.4,1365.9"/>
<line x1="460.9" y1="924.7" x2="460.9" y2="1184.4" stroke="#F14040" stroke-width="3"/>
<line x1="535.0" y1="1020.5" x2="535.0" y2="1276.8" stroke="#F14040" stroke-width="3"/>
<line x1="589.0" y1="1092.6" x2="589.0" y2="1315.1" stroke="#F14040" stroke-width="3"/>
<line x1="1487.7" y1="856.0" x2="1487.7" y2="1008.6" stroke="#F14040" stroke-width="3"/>
<line x1="1631.4" y1="1216.6" x2="1631.4" y2="1325.2" stroke="#F14040" stroke-width="3"/>
<line x1="1665.3" y1="692.6" x2="1665.3" y2="857.6" stroke="#F14040" stroke-width="3"/>
<line x1="1688.4" y1="872.9" x2="1688.4" y2="1026.7" stroke="#F14040" stroke-width="3"/>
<line x1="1764.1" y1="1249.2" x2="1764.1" y2="1325.2" stroke="#F14040" stroke-width="3"/>
<line x1="1790.8" y1="1109.5" x2="1790.8" y2="1240.7" stroke="#F14040" stroke-width="3"/>
<line x1="1831.6" y1="1008.1" x2="1831.6" y2="1150.6" stroke="#F14040" stroke-width="3"/>
<line x1="2058.3" y1="1041.9" x2="2058.3" y2="1178.8" stroke="#F14040" stroke-width="3"/>
<polyline fill="none" stroke="#1A6FDF" stroke-width="8.6" stroke-linejoin="round" stroke-linecap="round" points="333.2,1252.5 335.3,1253.1 337.4,1253.3 339.5,1253.4 341.7,1253.4 343.8,1253.1 345.9,1253.1 348.0,1253.2 350.1,1253.2 352.2,1253.2 354.4,1253.2 356.5,1252.9 358.6,1252.6 360.7,1252.5 362.8,1252.7 364.9,1253.0 367.1,1253.4 369.2,1253.4 371.3,1253.0 373.4,1252.6 375.5,1252.3 377.6,1252.4 379.8,1252.7 381.9,1253.0 384.0,1253.3 386.1,1253.2 388.2,1253.2 390.3,1253.2 392.4,1253.2 394.6,1253.4 396.7,1253.4 398.8,1253.3 400.9,1253.1 403.0,1252.8 405.1,1252.8 407.3,1252.7 409.4,1252.9 411.5,1253.3 413.6,1253.5 415.7,1253.9 417.8,1254.0 420.0,1254.0 422.1,1254.1 424.2,1254.0 426.3,1254.1 428.4,1254.0 430.5,1253.4 432.7,1253.1 434.8,1252.5 436.9,1251.7 439.0,1251.1 441.1,1250.1 443.2,1248.6 445.3,1246.5 447.5,1242.0 449.6,1230.9 451.7,1201.8 453.8,1136.2 455.9,1025.7 458.0,896.7 460.9,805.4 462.3,826.5 464.4,926.0 466.5,1047.6 468.6,1138.4 470.7,1188.3 472.9,1212.1 475.0,1221.1 477.1,1221.2 479.0,1222.1 481.3,1232.1 483.4,1243.5 485.6,1249.7 487.7,1251.6 489.8,1251.9 491.9,1251.9 494.0,1252.1 496.1,1252.3 498.2,1252.4 500.4,1252.5 502.5,1252.4 504.6,1252.2 506.7,1252.1 508.8,1251.9 510.9,1251.6 513.1,1251.1 515.2,1250.3 517.3,1248.9 519.4,1247.1 521.5,1244.7 523.6,1241.3 525.8,1236.8 527.9,1227.1 530.0,1196.8 532.1,1127.2 535.0,1037.4 536.3,1062.3 538.5,1158.1 540.6,1227.5 542.7,1249.1 544.8,1252.5 546.9,1252.8 549.0,1252.9 551.1,1252.9 553.3,1252.9 555.4,1252.6 557.5,1252.3 559.6,1251.9 561.7,1251.5 563.8,1251.3 566.0,1251.1 568.1,1251.2 570.2,1250.9 572.3,1250.2 574.4,1248.9 576.5,1246.8 578.7,1244.1 580.8,1240.2 582.9,1231.2 585.0,1204.7 587.1,1156.9 589.0,1128.0 591.4,1170.0 593.5,1224.1 595.6,1247.0 597.7,1251.7 599.8,1252.3 601.9,1252.8 604.0,1253.1 606.2,1253.1 608.3,1253.2 610.4,1253.0 612.5,1252.9 614.6,1252.6 616.7,1252.1 618.9,1251.5 621.0,1251.3 623.1,1251.4 625.2,1251.8 627.3,1252.0 629.4,1251.7 631.6,1250.9 633.7,1249.5 635.8,1248.4 637.9,1248.4 640.0,1249.6 642.1,1251.3 644.3,1250.2 646.4,1237.1 648.6,1221.5 650.6,1235.1 652.7,1250.4 654.8,1253.0 656.9,1252.8 659.1,1252.4 661.2,1252.3 663.3,1252.4 665.4,1252.3 667.5,1252.4 669.6,1252.1 671.8,1252.0 673.9,1252.1 676.0,1252.3 678.1,1252.7 680.2,1252.8 682.3,1252.6 684.5,1252.3 686.6,1251.8 688.7,1251.5 690.8,1251.5 692.9,1251.5 695.0,1251.5 697.2,1251.3 699.3,1251.1 701.4,1251.3 703.5,1251.9 705.6,1252.5 707.7,1252.6 709.8,1252.1 712.0,1249.9 714.1,1246.3 716.0,1244.7 718.3,1247.1 720.4,1250.6 722.5,1252.2 724.7,1252.4 726.8,1252.8 728.9,1253.0 731.0,1253.2 733.1,1253.6 735.2,1253.6 737.4,1253.8 739.5,1254.1 741.6,1254.0 743.7,1253.7 745.8,1253.3 747.9,1253.0 750.1,1252.9 752.2,1253.2 754.3,1253.4 756.4,1253.2 758.5,1253.1 760.6,1252.8 762.7,1252.7 764.9,1252.7 767.0,1252.8 769.1,1253.0 771.2,1253.5 773.3,1253.8 775.4,1254.0 777.6,1254.1 779.7,1253.7 781.8,1253.4 783.9,1253.1 786.0,1252.9 788.1,1252.9 790.3,1253.1 792.4,1253.2 794.5,1253.5 796.6,1253.7 798.7,1253.7 800.8,1253.4 803.0,1253.2 805.1,1253.1 807.2,1253.1 809.3,1253.4 811.4,1253.4 813.5,1253.2 815.6,1253.2 817.8,1252.9 819.9,1253.0 822.0,1253.3 824.1,1253.3 826.2,1253.5 828.3,1253.6 830.5,1253.5 832.6,1253.4 834.7,1253.2 836.8,1252.8 838.9,1252.7 841.0,1252.7 843.2,1252.6 845.3,1252.6 847.4,1252.6 849.5,1252.7 851.6,1252.8 853.7,1252.8 855.9,1252.8 858.0,1252.4 860.1,1252.1 862.2,1252.1 864.3,1252.2 866.4,1252.3 868.5,1252.6 870.7,1252.6 872.8,1252.6 874.9,1252.8 877.0,1252.8 879.1,1253.0 881.2,1253.2 883.4,1253.5 885.5,1253.6 887.6,1253.4 889.7,1253.1 891.8,1252.7 893.9,1252.6 896.1,1252.6 898.2,1252.7 900.3,1252.8 902.4,1252.6 904.5,1252.6 906.6,1252.6 908.8,1252.7 910.9,1252.9 913.0,1253.0 915.1,1253.1 917.2,1253.0 919.3,1252.8 921.4,1253.0 923.6,1252.9 925.7,1253.2 927.8,1253.3 929.9,1253.2 932.0,1253.2 934.1,1253.0 936.3,1252.8 938.4,1252.7 940.5,1252.7 942.6,1252.9 944.7,1252.9 946.8,1252.9 949.0,1252.8 951.1,1252.6 953.2,1252.4 955.3,1252.4 957.4,1252.4 959.5,1252.2 961.7,1252.3 963.8,1252.3 965.9,1252.5 968.0,1252.8 970.1,1253.0 972.2,1252.8 974.3,1252.7 976.5,1252.4 978.6,1252.2 980.7,1252.2 982.8,1252.4 984.9,1252.3 987.0,1252.5 989.2,1252.5 991.3,1252.5 993.4,1252.8 995.5,1253.2 997.6,1253.6 999.7,1253.8 1001.9,1253.8 1004.0,1253.5 1006.1,1253.1 1008.2,1252.9 1010.3,1252.8 1012.4,1252.7 1014.6,1253.0 1016.7,1253.2 1018.8,1253.5 1020.9,1253.9 1023.0,1254.2 1025.1,1254.3 1027.2,1254.3 1029.4,1254.2 1031.5,1253.8 1033.6,1253.5 1035.7,1253.2 1037.8,1253.0 1039.9,1252.9 1042.1,1252.7 1044.2,1252.9 1046.3,1253.0 1048.4,1253.1 1050.5,1253.3 1052.6,1253.4 1054.8,1253.3 1056.9,1253.2 1059.0,1253.3 1061.1,1253.3 1063.2,1253.5 1065.3,1253.5 1067.5,1253.4 1069.6,1253.2 1071.7,1253.1 1073.8,1253.0 1075.9,1252.8 1078.0,1252.8 1080.1,1252.7 1082.3,1252.8 1084.4,1253.0 1086.5,1253.1 1088.6,1253.3 1090.7,1253.5 1092.8,1253.6 1095.0,1253.7 1097.1,1253.6 1099.2,1253.2 1101.3,1253.0 1103.4,1252.9 1105.5,1252.8 1107.7,1253.1 1109.8,1253.3 1111.9,1253.5 1114.0,1253.9 1116.1,1254.0 1118.2,1254.0 1120.4,1253.7 1122.5,1253.2 1124.6,1253.1 1126.7,1253.0 1128.8,1253.1 1130.9,1253.0 1133.0,1252.8 1135.2,1252.5 1137.3,1252.6 1139.4,1252.9 1141.5,1253.1 1143.6,1253.5 1145.7,1253.5 1147.9,1253.4 1150.0,1253.3 1152.1,1253.1 1154.2,1253.3 1156.3,1253.2 1158.4,1253.6 1160.6,1254.0 1162.7,1254.0 1164.8,1254.1 1166.9,1253.7 1169.0,1253.0 1171.1,1252.5 1173.3,1252.1 1175.4,1252.0 1177.5,1252.3 1179.6,1252.6 1181.7,1252.7 1183.8,1252.6 1185.9,1252.4 1188.1,1252.1 1190.2,1252.0 1192.3,1252.0 1194.4,1252.1 1196.5,1252.2 1198.6,1252.4 1200.8,1252.4 1202.9,1252.6 1205.0,1252.8 1207.1,1252.9 1209.2,1253.0 1211.3,1253.0 1213.5,1252.9 1215.6,1252.8 1217.7,1252.8 1219.8,1252.6 1221.9,1252.6 1224.0,1252.7 1226.2,1252.9 1228.3,1253.1 1230.4,1253.3 1232.5,1253.3 1234.6,1253.2 1236.7,1252.9 1238.8,1252.7 1241.0,1252.4 1243.1,1252.2 1245.2,1252.4 1247.3,1252.6 1249.4,1252.9 1251.5,1253.1 1253.7,1253.0 1255.8,1252.9 1257.9,1252.9 1260.0,1253.1 1262.1,1253.5 1264.2,1253.7 1266.4,1253.6 1268.5,1253.5 1270.6,1253.0 1272.7,1252.4 1274.8,1251.9 1276.9,1251.2 1278.9,1251.0 1281.2,1251.3 1283.3,1251.7 1285.4,1252.3 1287.5,1252.4 1289.6,1252.3 1291.7,1252.1 1293.9,1252.2 1296.0,1252.5 1298.1,1252.6 1300.2,1253.0 1302.3,1252.9 1304.4,1252.7 1306.6,1252.7 1308.7,1252.4 1310.8,1252.3 1312.9,1252.5 1315.0,1252.8 1317.1,1253.3 1319.3,1253.8 1321.4,1253.9 1323.5,1253.8 1325.6,1253.6 1327.7,1253.2 1329.8,1252.9 1332.0,1252.8 1334.1,1252.4 1336.2,1252.5 1338.3,1252.6 1340.4,1252.3 1342.5,1252.2 1344.6,1251.9 1346.8,1251.6 1348.9,1251.7 1351.0,1252.2 1353.1,1252.8 1355.2,1253.1 1357.3,1253.3 1359.5,1253.3 1361.6,1253.1 1363.7,1253.4 1365.8,1253.6 1367.9,1253.8 1370.0,1253.9 1372.2,1253.7 1374.3,1253.7 1376.4,1253.6 1378.5,1253.5 1380.6,1253.5 1382.7,1253.3 1384.9,1253.4 1387.0,1253.5 1389.1,1253.6 1391.2,1253.8 1393.3,1253.8 1395.4,1253.6 1397.5,1253.5 1399.7,1253.2 1401.8,1253.0 1403.9,1252.8 1406.0,1252.7 1408.1,1252.7 1410.2,1252.9 1412.4,1253.2 1414.5,1253.3 1416.6,1253.3 1418.7,1253.1 1420.8,1252.9 1422.9,1252.4 1425.1,1250.2 1426.7,1248.9 1429.3,1251.6 1431.4,1253.1 1433.5,1253.2 1435.6,1253.2 1437.8,1253.3 1439.9,1253.2 1442.0,1253.2 1444.1,1253.1 1446.2,1252.8 1448.3,1252.7 1450.4,1252.4 1452.6,1252.3 1454.7,1252.3 1456.8,1252.2 1458.9,1252.2 1461.0,1252.3 1463.1,1252.4 1465.3,1252.5 1467.4,1252.7 1469.5,1253.2 1471.6,1253.6 1473.7,1254.1 1475.8,1254.2 1478.0,1254.0 1480.1,1253.5 1482.2,1248.5 1484.3,1189.0 1486.4,1003.2 1487.7,940.4 1488.5,969.2 1490.7,1159.0 1492.8,1244.5 1494.9,1253.5 1497.0,1253.5 1499.1,1253.4 1501.2,1253.5 1503.3,1253.3 1505.5,1253.5 1507.6,1253.5 1509.7,1252.6 1511.8,1247.7 1514.2,1240.7 1516.0,1245.2 1518.2,1251.6 1520.3,1252.9 1522.4,1253.0 1524.5,1253.2 1526.6,1253.4 1528.7,1253.8 1530.9,1254.0 1533.0,1252.1 1535.5,1248.7 1537.2,1250.4 1539.3,1253.1 1541.4,1253.6 1543.6,1253.6 1545.7,1253.4 1547.8,1253.4 1549.9,1253.3 1552.0,1253.3 1554.1,1253.4 1556.2,1253.2 1558.4,1253.3 1560.5,1253.3 1562.6,1253.4 1564.7,1251.4 1566.8,1238.6 1569.0,1224.8 1571.1,1237.6 1573.2,1251.1 1575.3,1253.5 1577.4,1253.5 1579.5,1253.1 1581.6,1253.0 1583.8,1253.0 1585.9,1253.0 1588.0,1253.0 1590.1,1252.9 1592.2,1252.7 1594.3,1251.0 1596.5,1242.8 1598.4,1236.0 1600.7,1244.7 1602.8,1251.8 1604.9,1252.9 1607.0,1252.9 1609.1,1253.0 1611.3,1253.0 1613.4,1253.2 1615.5,1253.0 1617.6,1252.9 1619.7,1252.7 1621.8,1252.3 1624.0,1251.8 1626.1,1246.0 1628.2,1216.4 1630.3,1165.4 1631.4,1155.1 1632.4,1164.9 1634.5,1216.1 1636.7,1246.7 1638.8,1252.5 1640.9,1252.9 1643.0,1252.9 1645.1,1253.1 1647.2,1253.3 1649.4,1253.2 1651.5,1253.0 1653.6,1252.6 1655.7,1252.1 1657.8,1251.8 1659.9,1243.9 1662.0,1154.4 1664.2,903.3 1665.3,835.8 1666.3,887.2 1668.4,1140.2 1670.5,1241.1 1672.6,1249.8 1674.7,1249.4 1676.5,1249.2 1679.0,1249.9 1681.1,1251.0 1683.2,1244.5 1685.3,1169.9 1687.4,985.5 1688.4,949.5 1689.6,1000.7 1691.7,1184.0 1693.8,1248.3 1695.9,1253.8 1698.0,1253.7 1700.1,1253.4 1702.3,1252.9 1704.4,1252.6 1706.5,1252.4 1708.6,1252.7 1710.7,1253.0 1712.8,1253.1 1714.9,1253.0 1717.1,1252.8 1719.2,1252.7 1721.3,1252.7 1723.4,1252.8 1725.5,1252.9 1727.6,1252.9 1729.8,1252.8 1731.9,1252.9 1734.0,1253.0 1736.1,1253.1 1738.2,1253.2 1740.3,1253.3 1742.5,1251.9 1744.6,1239.7 1747.4,1212.3 1748.8,1221.6 1750.9,1245.5 1753.0,1252.5 1755.2,1252.6 1757.3,1249.9 1759.4,1236.6 1761.5,1207.3 1764.1,1182.0 1765.7,1193.1 1767.8,1224.4 1770.0,1245.2 1772.1,1251.5 1774.2,1252.6 1776.3,1252.8 1778.4,1253.2 1780.5,1253.6 1782.7,1253.1 1784.8,1245.1 1786.9,1206.9 1789.0,1131.4 1790.8,1095.9 1793.2,1154.9 1795.4,1222.6 1797.5,1248.5 1799.6,1252.9 1801.7,1253.4 1803.8,1253.4 1805.9,1253.3 1808.1,1253.3 1810.2,1253.0 1812.3,1253.0 1814.4,1252.9 1816.5,1252.8 1818.6,1252.6 1820.7,1252.5 1822.9,1252.5 1825.0,1252.2 1827.1,1239.4 1829.2,1152.8 1831.6,1033.6 1833.4,1115.3 1835.6,1227.3 1837.7,1251.1 1839.8,1252.5 1841.9,1252.5 1844.0,1252.6 1846.1,1252.9 1848.3,1252.9 1850.4,1253.2 1852.5,1253.4 1854.6,1253.5 1856.7,1253.7 1858.8,1253.6 1861.0,1253.5 1863.1,1253.0 1865.2,1251.1 1867.3,1242.5 1869.4,1220.5 1871.5,1194.6 1872.8,1188.4 1873.6,1190.9 1875.8,1214.1 1877.9,1238.3 1880.0,1249.6 1882.1,1252.4 1884.2,1253.0 1886.3,1253.4 1888.5,1253.3 1890.6,1253.3 1892.7,1253.0 1894.8,1251.0 1896.9,1245.2 1898.4,1242.7 1901.2,1249.0 1903.3,1252.3 1905.4,1252.9 1907.5,1253.0 1909.6,1253.0 1911.7,1252.9 1913.9,1252.8 1916.0,1252.4 1918.1,1251.9 1920.2,1251.6 1922.3,1251.6 1924.4,1251.9 1926.5,1252.5 1928.7,1252.8 1930.8,1252.9 1932.9,1252.8 1935.0,1252.7 1937.1,1252.5 1939.2,1252.3 1941.4,1252.3 1943.5,1252.1 1945.6,1252.1 1947.7,1252.4 1949.8,1252.7 1951.9,1253.2 1954.1,1253.4 1956.2,1253.2 1958.3,1252.9 1960.4,1252.4 1962.5,1252.2 1964.6,1252.2 1966.8,1252.3 1968.9,1252.6 1971.0,1252.6 1973.1,1252.9 1975.2,1253.2 1977.3,1253.4 1979.4,1253.9 1981.6,1254.0 1983.7,1253.9 1985.8,1253.6 1987.9,1253.3 1990.0,1253.2 1992.1,1253.3 1994.3,1253.5 1996.4,1253.5 1998.5,1253.6 2000.6,1253.6 2002.7,1253.3 2004.8,1253.2 2007.0,1252.9 2009.1,1252.5 2011.2,1252.5 2013.3,1252.7 2015.4,1253.2 2017.5,1253.9 2019.7,1254.1 2021.8,1254.1 2023.9,1253.8 2026.0,1253.3 2028.1,1253.2 2030.2,1253.2 2032.3,1253.1 2034.5,1252.8 2036.6,1252.5 2038.7,1252.1 2040.8,1252.2 2042.9,1252.6 2045.0,1253.0 2047.2,1253.4 2049.3,1253.4 2051.4,1252.8 2053.5,1244.2 2055.6,1177.7 2058.3,1052.7 2059.9,1109.1 2062.0,1221.0 2064.1,1250.8 2066.2,1253.0 2068.3,1253.1 2070.4,1252.9 2072.6,1252.8 2074.7,1252.7 2076.8,1252.7 2078.9,1252.4 2081.0,1249.1 2083.1,1241.5 2084.0,1240.5 2085.2,1243.0 2087.4,1250.5 2089.5,1253.0 2091.6,1253.0 2093.7,1253.1 2095.8,1253.1 2097.9,1253.1 2100.1,1253.0 2102.2,1252.7 2104.3,1252.6 2106.4,1252.5 2108.5,1252.6 2110.6,1253.2 2112.8,1253.4 2114.9,1253.6 2117.0,1253.6 2119.1,1253.3 2121.2,1253.4 2123.3,1253.3 2125.5,1253.4 2127.6,1253.6 2129.7,1253.4 2131.8,1253.4 2133.9,1253.1 2136.0,1252.9 2138.1,1252.8 2140.3,1252.7 2142.4,1253.0 2144.5,1253.2 2146.6,1253.5 2148.7,1253.7 2150.8,1253.4 2153.0,1253.1 2155.1,1252.9 2157.2,1252.7 2159.3,1252.7 2161.4,1253.1"/>
<line x1="460.9" y1="808.7" x2="460.9" y2="920.7" stroke="#1A6FDF" stroke-width="3"/>
<polyline fill="none" stroke="#37AD6B" stroke-width="8.6" stroke-linejoin="round" stroke-linecap="round" points="333.2,1140.8 335.3,1140.7 337.4,1140.7 339.5,1140.7 341.7,1140.6 343.8,1140.5 345.9,1140.2 348.0,1140.1 350.1,1140.0 352.2,1140.0 354.4,1140.1 356.5,1140.1 358.6,1140.1 360.7,1140.0 362.8,1139.8 364.9,1139.6 367.1,1139.6 369.2,1139.8 371.3,1140.1 373.4,1140.6 375.5,1141.0 377.6,1141.2 379.8,1141.2 381.9,1141.1 384.0,1140.9 386.1,1140.9 388.2,1141.0 390.3,1141.3 392.4,1141.3 394.6,1141.2 396.7,1140.9 398.8,1140.2 400.9,1139.6 403.0,1139.2 405.1,1139.1 407.3,1139.6 409.4,1140.3 411.5,1140.7 413.6,1140.7 415.7,1140.4 417.8,1139.9 420.0,1139.7 422.1,1139.7 424.2,1139.8 426.3,1139.8 428.4,1139.9 430.5,1139.9 432.7,1139.7 434.8,1139.1 436.9,1138.1 439.0,1136.9 441.1,1135.5 443.2,1134.0 445.3,1131.7 447.5,1126.9 449.6,1114.4 451.7,1080.7 453.8,1004.4 455.9,875.4 458.0,724.5 460.9,617.9 462.3,642.6 464.4,758.7 466.5,900.7 468.6,1006.5 470.7,1064.4 472.9,1091.8 475.0,1100.6 477.1,1098.0 479.0,1097.7 481.3,1111.1 483.4,1127.2 485.6,1136.4 487.7,1139.4 489.8,1140.2 491.9,1140.3 494.0,1140.2 496.1,1140.1 498.2,1140.1 500.4,1140.3 502.5,1140.7 504.6,1140.9 506.7,1141.1 508.8,1140.6 510.9,1139.6 513.1,1138.3 515.2,1136.6 517.3,1135.1 519.4,1133.4 521.5,1131.4 523.6,1128.3 525.8,1123.4 527.9,1112.0 530.0,1077.0 532.1,997.6 535.0,895.8 536.3,923.8 538.5,1032.3 540.6,1110.8 542.7,1135.4 544.8,1139.5 546.9,1140.0 549.0,1140.1 551.1,1140.1 553.3,1139.9 555.4,1139.7 557.5,1139.7 559.6,1139.4 561.7,1139.2 563.8,1138.5 566.0,1137.6 568.1,1136.7 570.2,1135.3 572.3,1133.6 574.4,1131.2 576.5,1127.9 578.7,1123.6 580.8,1117.1 582.9,1102.1 585.0,1057.5 587.1,977.1 589.0,929.1 591.4,1001.0 593.5,1093.3 595.6,1132.4 597.7,1139.7 599.8,1140.4 601.9,1140.5 604.0,1140.5 606.2,1140.6 608.3,1140.2 610.4,1139.8 612.5,1139.4 614.6,1138.7 616.7,1138.3 618.9,1137.6 621.0,1137.4 623.1,1138.1 625.2,1138.9 627.3,1139.3 629.4,1138.7 631.6,1137.0 633.7,1134.2 635.8,1131.4 637.9,1131.0 640.0,1133.1 642.1,1135.9 644.3,1133.7 646.4,1105.9 648.6,1073.0 650.6,1101.9 652.7,1134.2 654.8,1140.3 656.9,1140.4 659.1,1140.3 661.2,1140.7 663.3,1141.0 665.4,1141.2 667.5,1141.4 669.6,1140.9 671.8,1140.6 673.9,1140.4 676.0,1140.1 678.1,1140.2 680.2,1140.3 682.3,1140.3 684.5,1140.4 686.6,1140.4 688.7,1140.4 690.8,1140.4 692.9,1140.1 695.0,1139.5 697.2,1138.7 699.3,1137.8 701.4,1138.0 703.5,1138.8 705.6,1139.4 707.7,1139.7 709.8,1139.0 712.0,1136.0 714.1,1131.0 716.0,1128.6 718.3,1132.3 720.4,1137.5 722.5,1140.1 724.7,1140.6 726.8,1140.4 728.9,1140.2 731.0,1139.7 733.1,1139.5 735.2,1139.5 737.4,1139.3 739.5,1139.5 741.6,1139.8 743.7,1140.0 745.8,1140.5 747.9,1140.8 750.1,1141.1 752.2,1141.2 754.3,1141.0 756.4,1140.9 758.5,1140.6 760.6,1140.5 762.7,1140.4 764.9,1140.2 767.0,1140.2 769.1,1140.2 771.2,1140.2 773.3,1140.2 775.4,1140.1 777.6,1140.1 779.7,1140.1 781.8,1140.1 783.9,1140.0 786.0,1139.9 788.1,1139.8 790.3,1139.6 792.4,1139.7 794.5,1139.9 796.6,1140.0 798.7,1140.2 800.8,1140.3 803.0,1140.2 805.1,1140.2 807.2,1140.1 809.3,1140.1 811.4,1140.4 813.5,1140.6 815.6,1140.8 817.8,1140.7 819.9,1140.5 822.0,1140.2 824.1,1139.7 826.2,1139.5 828.3,1139.4 830.5,1139.5 832.6,1139.7 834.7,1140.2 836.8,1140.4 838.9,1140.4 841.0,1140.5 843.2,1140.2 845.3,1140.4 847.4,1140.4 849.5,1140.4 851.6,1140.7 853.7,1140.7 855.9,1140.8 858.0,1141.0 860.1,1140.8 862.2,1140.6 864.3,1140.2 866.4,1139.8 868.5,1139.8 870.7,1139.9 872.8,1140.1 874.9,1140.3 877.0,1140.4 879.1,1140.6 881.2,1140.9 883.4,1141.0 885.5,1141.0 887.6,1140.6 889.7,1140.3 891.8,1140.0 893.9,1139.8 896.1,1139.9 898.2,1140.0 900.3,1139.9 902.4,1140.1 904.5,1140.1 906.6,1140.1 908.8,1140.2 910.9,1140.0 913.0,1139.9 915.1,1139.8 917.2,1139.6 919.3,1139.7 921.4,1139.9 923.6,1140.0 925.7,1140.3 927.8,1140.4 929.9,1140.5 932.0,1140.6 934.1,1140.5 936.3,1140.4 938.4,1140.2 940.5,1139.9 942.6,1139.9 944.7,1139.9 946.8,1140.3 949.0,1140.5 951.1,1140.6 953.2,1140.8 955.3,1140.7 957.4,1140.8 959.5,1140.8 961.7,1140.7 963.8,1140.6 965.9,1140.3 968.0,1139.9 970.1,1139.7 972.2,1139.6 974.3,1139.5 976.5,1139.6 978.6,1139.6 980.7,1139.5 982.8,1139.7 984.9,1139.8 987.0,1139.8 989.2,1140.1 991.3,1140.1 993.4,1140.1 995.5,1140.3 997.6,1140.2 999.7,1140.4 1001.9,1140.4 1004.0,1140.5 1006.1,1140.6 1008.2,1140.5 1010.3,1140.5 1012.4,1140.4 1014.6,1140.3 1016.7,1140.1 1018.8,1140.0 1020.9,1139.8 1023.0,1139.7 1025.1,1139.6 1027.2,1139.3 1029.4,1139.2 1031.5,1139.1 1033.6,1139.4 1035.7,1139.9 1037.8,1140.3 1039.9,1140.6 1042.1,1140.7 1044.2,1140.8 1046.3,1140.8 1048.4,1141.2 1050.5,1141.4 1052.6,1141.6 1054.8,1141.7 1056.9,1141.2 1059.0,1141.1 1061.1,1140.6 1063.2,1140.6 1065.3,1140.6 1067.5,1140.4 1069.6,1140.5 1071.7,1140.3 1073.8,1140.2 1075.9,1140.2 1078.0,1140.1 1080.1,1140.0 1082.3,1140.1 1084.4,1140.2 1086.5,1140.2 1088.6,1140.4 1090.7,1140.5 1092.8,1140.6 1095.0,1140.6 1097.1,1140.6 1099.2,1140.6 1101.3,1140.3 1103.4,1140.3 1105.5,1140.3 1107.7,1140.3 1109.8,1140.5 1111.9,1140.5 1114.0,1140.3 1116.1,1140.1 1118.2,1140.0 1120.4,1139.9 1122.5,1140.1 1124.6,1140.2 1126.7,1140.3 1128.8,1140.4 1130.9,1140.2 1133.0,1140.4 1135.2,1140.4 1137.3,1140.5 1139.4,1140.5 1141.5,1140.4 1143.6,1140.2 1145.7,1140.1 1147.9,1140.5 1150.0,1140.6 1152.1,1140.6 1154.2,1140.5 1156.3,1140.0 1158.4,1139.9 1160.6,1140.1 1162.7,1140.3 1164.8,1140.5 1166.9,1140.5 1169.0,1140.3 1171.1,1140.0 1173.3,1139.9 1175.4,1139.9 1177.5,1139.9 1179.6,1140.2 1181.7,1140.4 1183.8,1140.6 1185.9,1140.8 1188.1,1140.8 1190.2,1140.8 1192.3,1140.6 1194.4,1140.4 1196.5,1140.2 1198.6,1140.0 1200.8,1140.1 1202.9,1140.3 1205.0,1140.6 1207.1,1140.8 1209.2,1140.9 1211.3,1140.9 1213.5,1140.7 1215.6,1140.4 1217.7,1140.2 1219.8,1139.7 1221.9,1139.4 1224.0,1139.4 1226.2,1139.3 1228.3,1139.3 1230.4,1139.4 1232.5,1139.3 1234.6,1139.5 1236.7,1139.6 1238.8,1139.7 1241.0,1140.0 1243.1,1140.0 1245.2,1140.2 1247.3,1140.3 1249.4,1140.5 1251.5,1140.6 1253.7,1140.4 1255.8,1139.9 1257.9,1139.6 1260.0,1139.4 1262.1,1139.5 1264.2,1139.7 1266.4,1139.6 1268.5,1139.4 1270.6,1138.8 1272.7,1138.1 1274.8,1137.3 1276.9,1136.8 1278.9,1136.9 1281.2,1137.4 1283.3,1138.6 1285.4,1139.6 1287.5,1140.2 1289.6,1140.7 1291.7,1140.8 1293.9,1140.6 1296.0,1140.2 1298.1,1140.0 1300.2,1140.0 1302.3,1140.1 1304.4,1140.5 1306.6,1140.5 1308.7,1140.4 1310.8,1140.4 1312.9,1140.1 1315.0,1140.2 1317.1,1140.1 1319.3,1139.8 1321.4,1139.8 1323.5,1139.4 1325.6,1139.5 1327.7,1139.5 1329.8,1139.3 1332.0,1139.6 1334.1,1139.6 1336.2,1139.8 1338.3,1140.2 1340.4,1140.3 1342.5,1140.4 1344.6,1140.4 1346.8,1140.4 1348.9,1140.3 1351.0,1140.3 1353.1,1140.4 1355.2,1140.4 1357.3,1140.3 1359.5,1140.2 1361.6,1139.9 1363.7,1139.6 1365.8,1139.6 1367.9,1139.4 1370.0,1139.2 1372.2,1139.1 1374.3,1139.0 1376.4,1139.2 1378.5,1139.6 1380.6,1140.1 1382.7,1140.4 1384.9,1140.5 1387.0,1140.5 1389.1,1140.4 1391.2,1140.5 1393.3,1140.7 1395.4,1140.6 1397.5,1140.5 1399.7,1140.2 1401.8,1139.6 1403.9,1139.3 1406.0,1139.4 1408.1,1139.6 1410.2,1140.1 1412.4,1140.5 1414.5,1140.7 1416.6,1141.0 1418.7,1140.8 1420.8,1140.6 1422.9,1139.6 1425.1,1136.0 1426.7,1134.0 1429.3,1137.5 1431.4,1139.4 1433.5,1139.5 1435.6,1139.4 1437.8,1139.5 1439.9,1139.6 1442.0,1139.8 1444.1,1140.0 1446.2,1140.1 1448.3,1140.4 1450.4,1140.6 1452.6,1140.7 1454.7,1140.7 1456.8,1140.3 1458.9,1140.0 1461.0,1139.6 1463.1,1139.4 1465.3,1139.5 1467.4,1139.7 1469.5,1140.1 1471.6,1140.4 1473.7,1140.6 1475.8,1140.3 1478.0,1139.9 1480.1,1139.3 1482.2,1132.7 1484.3,1052.3 1486.4,800.8 1487.7,715.8 1488.5,754.8 1490.7,1012.0 1492.8,1128.0 1494.9,1139.9 1497.0,1140.1 1499.1,1140.0 1501.2,1139.9 1503.3,1140.0 1505.5,1140.0 1507.6,1140.2 1509.7,1139.6 1511.8,1134.6 1514.2,1127.8 1516.0,1132.9 1518.2,1139.5 1520.3,1141.1 1522.4,1141.1 1524.5,1140.9 1526.6,1141.1 1528.7,1140.9 1530.9,1140.7 1533.0,1138.0 1535.5,1133.2 1537.2,1135.6 1539.3,1139.4 1541.4,1139.9 1543.6,1140.0 1545.7,1139.9 1547.8,1140.0 1549.9,1140.3 1552.0,1140.1 1554.1,1140.1 1556.2,1140.2 1558.4,1140.1 1560.5,1140.0 1562.6,1139.7 1564.7,1136.4 1566.8,1119.2 1569.0,1101.1 1571.1,1118.4 1573.2,1136.8 1575.3,1140.6 1577.4,1140.7 1579.5,1140.4 1581.6,1140.1 1583.8,1139.9 1585.9,1140.2 1588.0,1140.4 1590.1,1140.8 1592.2,1141.0 1594.3,1138.9 1596.5,1128.4 1598.4,1119.7 1600.7,1130.5 1602.8,1139.2 1604.9,1140.3 1607.0,1140.0 1609.1,1139.8 1611.3,1140.1 1613.4,1140.2 1615.5,1140.6 1617.6,1140.7 1619.7,1140.3 1621.8,1140.2 1624.0,1139.1 1626.1,1131.5 1628.2,1092.3 1630.3,1024.4 1631.4,1010.4 1632.4,1023.1 1634.5,1090.5 1636.7,1131.5 1638.8,1139.7 1640.9,1140.4 1643.0,1140.4 1645.1,1140.3 1647.2,1140.2 1649.4,1140.1 1651.5,1140.2 1653.6,1140.3 1655.7,1140.4 1657.8,1140.1 1659.9,1129.5 1662.0,1008.3 1664.2,668.4 1665.3,577.0 1666.3,646.3 1668.4,987.8 1670.5,1124.3 1672.6,1136.0 1674.7,1135.2 1676.5,1134.9 1679.0,1135.6 1681.1,1136.7 1683.2,1128.2 1685.3,1027.1 1687.4,777.5 1688.4,728.7 1689.6,797.6 1691.7,1045.4 1693.8,1132.7 1695.9,1140.5 1698.0,1141.1 1700.1,1141.3 1702.3,1141.3 1704.4,1141.2 1706.5,1140.9 1708.6,1140.7 1710.7,1140.6 1712.8,1140.4 1714.9,1140.1 1717.1,1139.8 1719.2,1139.5 1721.3,1139.6 1723.4,1139.6 1725.5,1139.8 1727.6,1140.1 1729.8,1140.3 1731.9,1140.5 1734.0,1140.8 1736.1,1140.8 1738.2,1140.8 1740.3,1140.8 1742.5,1138.7 1744.6,1121.5 1747.4,1083.9 1748.8,1096.8 1750.9,1129.4 1753.0,1139.3 1755.2,1139.7 1757.3,1135.8 1759.4,1117.3 1761.5,1076.1 1764.1,1040.2 1765.7,1056.3 1767.8,1100.6 1770.0,1130.0 1772.1,1138.9 1774.2,1140.2 1776.3,1140.3 1778.4,1140.5 1780.5,1140.8 1782.7,1139.8 1784.8,1128.6 1786.9,1076.4 1789.0,973.8 1790.8,925.6 1793.2,1005.9 1795.4,1098.5 1797.5,1134.0 1799.6,1140.1 1801.7,1140.7 1803.8,1140.6 1805.9,1140.5 1808.1,1140.6 1810.2,1140.6 1812.3,1140.7 1814.4,1140.8 1816.5,1140.7 1818.6,1140.7 1820.7,1140.6 1822.9,1140.4 1825.0,1139.7 1827.1,1122.0 1829.2,1004.0 1831.6,842.2 1833.4,953.5 1835.6,1106.0 1837.7,1138.7 1839.8,1140.4 1841.9,1140.5 1844.0,1140.3 1846.1,1140.4 1848.3,1140.4 1850.4,1140.3 1852.5,1140.3 1854.6,1140.2 1856.7,1140.1 1858.8,1140.0 1861.0,1139.9 1863.1,1139.4 1865.2,1136.9 1867.3,1125.4 1869.4,1095.4 1871.5,1060.1 1872.8,1052.1 1873.6,1055.6 1875.8,1087.8 1877.9,1120.9 1880.0,1136.1 1882.1,1139.9 1884.2,1140.8 1886.3,1141.1 1888.5,1140.4 1890.6,1139.9 1892.7,1139.1 1894.8,1137.0 1896.9,1130.9 1898.4,1128.3 1901.2,1136.0 1903.3,1139.7 1905.4,1140.1 1907.5,1140.0 1909.6,1139.8 1911.7,1139.7 1913.9,1139.7 1916.0,1139.7 1918.1,1139.8 1920.2,1139.9 1922.3,1139.8 1924.4,1140.0 1926.5,1140.2 1928.7,1140.6 1930.8,1140.8 1932.9,1140.8 1935.0,1140.7 1937.1,1140.4 1939.2,1140.2 1941.4,1140.2 1943.5,1140.3 1945.6,1140.6 1947.7,1140.8 1949.8,1140.7 1951.9,1140.5 1954.1,1139.9 1956.2,1139.5 1958.3,1139.4 1960.4,1139.7 1962.5,1140.0 1964.6,1140.3 1966.8,1140.2 1968.9,1140.0 1971.0,1139.9 1973.1,1140.1 1975.2,1140.4 1977.3,1140.8 1979.4,1140.9 1981.6,1140.7 1983.7,1140.4 1985.8,1140.2 1987.9,1139.9 1990.0,1139.9 1992.1,1140.2 1994.3,1140.5 1996.4,1140.9 1998.5,1141.1 2000.6,1141.2 2002.7,1141.2 2004.8,1140.9 2007.0,1140.8 2009.1,1140.4 2011.2,1140.2 2013.3,1140.2 2015.4,1140.2 2017.5,1140.4 2019.7,1140.6 2021.8,1140.6 2023.9,1140.5 2026.0,1140.5 2028.1,1140.6 2030.2,1140.7 2032.3,1140.9 2034.5,1140.7 2036.6,1140.2 2038.7,1139.9 2040.8,1139.6 2042.9,1139.9 2045.0,1140.3 2047.2,1140.6 2049.3,1140.7 2051.4,1140.0 2053.5,1128.4 2055.6,1038.6 2058.3,869.5 2059.9,946.2 2062.0,1098.0 2064.1,1138.0 2066.2,1140.9 2068.3,1141.1 2070.4,1141.2 2072.6,1141.3 2074.7,1141.2 2076.8,1140.9 2078.9,1140.3 2081.0,1136.8 2083.1,1129.2 2084.0,1128.0 2085.2,1130.2 2087.4,1137.3 2089.5,1139.6 2091.6,1139.7 2093.7,1139.9 2095.8,1140.2 2097.9,1140.5 2100.1,1140.7 2102.2,1140.5 2104.3,1140.5 2106.4,1140.3 2108.5,1140.2 2110.6,1140.5 2112.8,1140.8 2114.9,1141.1 2117.0,1141.3 2119.1,1141.0 2121.2,1140.5 2123.3,1139.8 2125.5,1139.3 2127.6,1139.2 2129.7,1139.5 2131.8,1140.0 2133.9,1140.6 2136.0,1140.8 2138.1,1140.8 2140.3,1140.6 2142.4,1140.2 2144.5,1139.8 2146.6,1139.6 2148.7,1139.6 2150.8,1139.7 2153.0,1139.9 2155.1,1140.1 2157.2,1140.1 2159.3,1140.1 2161.4,1140.0"/>
<line x1="460.9" y1="620.5" x2="460.9" y2="804.7" stroke="#37AD6B" stroke-width="3"/>
<line x1="535.0" y1="898.8" x2="535.0" y2="1016.5" stroke="#37AD6B" stroke-width="3"/>
<line x1="589.0" y1="931.5" x2="589.0" y2="1088.6" stroke="#37AD6B" stroke-width="3"/>
<line x1="1487.7" y1="718.6" x2="1487.7" y2="852.0" stroke="#37AD6B" stroke-width="3"/>
<line x1="1631.4" y1="1013.7" x2="1631.4" y2="1099.9" stroke="#37AD6B" stroke-width="3"/>
<line x1="1665.3" y1="580.0" x2="1665.3" y2="688.6" stroke="#37AD6B" stroke-width="3"/>
<line x1="1688.4" y1="732.1" x2="1688.4" y2="868.9" stroke="#37AD6B" stroke-width="3"/>
<line x1="1790.8" y1="929.2" x2="1790.8" y2="1094.3" stroke="#37AD6B" stroke-width="3"/>
<line x1="1831.6" y1="844.7" x2="1831.6" y2="1004.1" stroke="#37AD6B" stroke-width="3"/>
<line x1="2058.3" y1="872.9" x2="2058.3" y2="1037.9" stroke="#37AD6B" stroke-width="3"/>
<polyline fill="none" stroke="#B177DE" stroke-width="8.6" stroke-linejoin="round" stroke-linecap="round" points="333.2,1027.8 335.3,1027.8 337.4,1027.4 339.5,1027.2 341.7,1026.9 343.8,1026.6 345.9,1026.5 348.0,1026.5 350.1,1026.6 352.2,1027.0 354.4,1027.2 356.5,1027.4 358.6,1027.8 360.7,1028.0 362.8,1028.2 364.9,1028.3 367.1,1028.3 369.2,1028.3 371.3,1028.1 373.4,1027.8 375.5,1027.5 377.6,1027.1 379.8,1026.8 381.9,1026.8 384.0,1027.1 386.1,1027.4 388.2,1027.6 390.3,1027.6 392.4,1027.4 394.6,1027.3 396.7,1027.3 398.8,1027.3 400.9,1027.6 403.0,1027.9 405.1,1028.2 407.3,1028.6 409.4,1028.5 411.5,1028.4 413.6,1028.0 415.7,1027.4 417.8,1027.3 420.0,1027.1 422.1,1026.9 424.2,1027.0 426.3,1026.9 428.4,1027.0 430.5,1027.0 432.7,1026.8 434.8,1026.2 436.9,1025.2 439.0,1023.7 441.1,1021.4 443.2,1018.4 445.3,1014.1 447.5,1006.7 449.6,987.9 451.7,937.4 453.8,823.6 455.9,630.3 458.0,404.3 460.9,245.0 462.3,282.0 464.4,456.8 466.5,669.9 468.6,828.8 470.7,916.1 472.9,957.8 475.0,973.8 477.1,973.9 479.0,975.3 481.3,992.0 483.4,1011.3 485.6,1022.3 487.7,1025.9 489.8,1026.8 491.9,1027.1 494.0,1027.4 496.1,1027.7 498.2,1028.0 500.4,1028.2 502.5,1028.2 504.6,1028.0 506.7,1027.4 508.8,1026.5 510.9,1025.2 513.1,1023.4 515.2,1021.5 517.3,1019.1 519.4,1015.8 521.5,1011.5 523.6,1005.3 525.8,995.9 527.9,975.7 530.0,913.9 532.1,772.5 535.0,591.3 536.3,641.9 538.5,835.5 540.6,976.0 542.7,1020.2 544.8,1027.1 546.9,1027.5 549.0,1027.1 551.1,1026.5 553.3,1026.0 555.4,1025.7 557.5,1025.9 559.6,1026.1 561.7,1026.1 563.8,1025.8 566.0,1024.8 568.1,1023.2 570.2,1021.1 572.3,1018.6 574.4,1015.6 576.5,1011.8 578.7,1006.7 580.8,998.8 582.9,979.5 585.0,923.0 587.1,821.1 589.0,760.6 591.4,851.8 593.5,968.4 595.6,1017.8 597.7,1027.1 599.8,1027.7 601.9,1027.6 604.0,1027.5 606.2,1027.4 608.3,1027.4 610.4,1027.4 612.5,1027.4 614.6,1027.2 616.7,1026.5 618.9,1025.5 621.0,1024.8 623.1,1025.0 625.2,1025.8 627.3,1026.1 629.4,1025.5 631.6,1023.6 633.7,1020.1 635.8,1016.9 637.9,1016.5 640.0,1018.8 642.1,1022.4 644.3,1019.8 646.4,987.6 648.6,949.6 650.6,982.3 652.7,1019.5 654.8,1026.8 656.9,1027.0 659.1,1027.1 661.2,1027.0 663.3,1026.7 665.4,1026.5 667.5,1026.4 669.6,1026.3 671.8,1026.4 673.9,1026.6 676.0,1026.7 678.1,1026.8 680.2,1026.8 682.3,1026.9 684.5,1027.0 686.6,1027.4 688.7,1027.8 690.8,1027.8 692.9,1027.6 695.0,1026.6 697.2,1025.1 699.3,1024.0 701.4,1024.2 703.5,1025.4 705.6,1026.5 707.7,1027.0 709.8,1025.9 712.0,1021.9 714.1,1014.5 716.0,1010.8 718.3,1015.8 720.4,1022.7 722.5,1026.1 724.7,1026.8 726.8,1027.0 728.9,1027.2 731.0,1027.6 733.1,1027.9 735.2,1028.1 737.4,1028.4 739.5,1028.2 741.6,1028.2 743.7,1028.1 745.8,1027.8 747.9,1027.8 750.1,1027.8 752.2,1027.8 754.3,1028.0 756.4,1028.0 758.5,1028.0 760.6,1028.1 762.7,1028.1 764.9,1028.0 767.0,1028.0 769.1,1027.9 771.2,1028.1 773.3,1028.2 775.4,1028.2 777.6,1028.0 779.7,1027.7 781.8,1027.5 783.9,1027.4 786.0,1027.5 788.1,1027.6 790.3,1027.6 792.4,1027.5 794.5,1027.6 796.6,1027.7 798.7,1027.9 800.8,1028.0 803.0,1027.9 805.1,1027.6 807.2,1027.3 809.3,1027.1 811.4,1027.0 813.5,1027.2 815.6,1027.5 817.8,1027.7 819.9,1028.1 822.0,1028.2 824.1,1028.4 826.2,1028.4 828.3,1028.1 830.5,1028.0 832.6,1027.6 834.7,1027.4 836.8,1027.2 838.9,1026.9 841.0,1026.8 843.2,1026.7 845.3,1026.9 847.4,1027.2 849.5,1027.4 851.6,1027.6 853.7,1027.7 855.9,1027.7 858.0,1027.7 860.1,1027.5 862.2,1027.4 864.3,1027.4 866.4,1027.4 868.5,1027.6 870.7,1027.6 872.8,1027.8 874.9,1027.8 877.0,1027.7 879.1,1027.8 881.2,1027.6 883.4,1027.6 885.5,1027.5 887.6,1027.5 889.7,1027.6 891.8,1027.8 893.9,1028.1 896.1,1028.3 898.2,1028.6 900.3,1028.9 902.4,1029.0 904.5,1028.7 906.6,1028.1 908.8,1027.4 910.9,1027.0 913.0,1027.0 915.1,1027.4 917.2,1027.7 919.3,1027.8 921.4,1027.6 923.6,1027.3 925.7,1026.9 927.8,1026.9 929.9,1027.1 932.0,1027.4 934.1,1027.8 936.3,1028.2 938.4,1028.2 940.5,1028.2 942.6,1028.2 944.7,1027.8 946.8,1027.6 949.0,1027.4 951.1,1027.2 953.2,1027.3 955.3,1027.3 957.4,1027.4 959.5,1027.4 961.7,1027.3 963.8,1027.2 965.9,1027.2 968.0,1027.3 970.1,1027.7 972.2,1028.0 974.3,1028.2 976.5,1028.4 978.6,1028.3 980.7,1028.1 982.8,1028.0 984.9,1027.8 987.0,1027.5 989.2,1027.5 991.3,1027.3 993.4,1027.3 995.5,1027.3 997.6,1027.2 999.7,1027.2 1001.9,1027.3 1004.0,1027.4 1006.1,1027.6 1008.2,1027.8 1010.3,1028.1 1012.4,1028.3 1014.6,1028.6 1016.7,1028.7 1018.8,1028.7 1020.9,1028.6 1023.0,1028.4 1025.1,1028.3 1027.2,1028.3 1029.4,1028.0 1031.5,1027.8 1033.6,1027.5 1035.7,1027.5 1037.8,1027.6 1039.9,1027.8 1042.1,1028.0 1044.2,1027.9 1046.3,1027.9 1048.4,1027.7 1050.5,1027.5 1052.6,1027.3 1054.8,1027.1 1056.9,1027.1 1059.0,1027.2 1061.1,1027.7 1063.2,1028.2 1065.3,1028.4 1067.5,1028.4 1069.6,1028.1 1071.7,1027.8 1073.8,1027.6 1075.9,1027.7 1078.0,1027.8 1080.1,1028.1 1082.3,1028.3 1084.4,1028.2 1086.5,1028.0 1088.6,1028.0 1090.7,1027.9 1092.8,1027.8 1095.0,1027.7 1097.1,1027.6 1099.2,1027.5 1101.3,1027.6 1103.4,1027.9 1105.5,1028.1 1107.7,1028.4 1109.8,1028.7 1111.9,1028.6 1114.0,1028.6 1116.1,1028.6 1118.2,1028.5 1120.4,1028.7 1122.5,1028.9 1124.6,1028.7 1126.7,1028.3 1128.8,1027.8 1130.9,1027.5 1133.0,1027.5 1135.2,1027.8 1137.3,1027.9 1139.4,1027.8 1141.5,1027.8 1143.6,1027.7 1145.7,1028.0 1147.9,1028.3 1150.0,1028.5 1152.1,1028.5 1154.2,1028.3 1156.3,1028.0 1158.4,1027.9 1160.6,1028.0 1162.7,1028.1 1164.8,1028.1 1166.9,1027.9 1169.0,1027.8 1171.1,1027.6 1173.3,1027.6 1175.4,1027.7 1177.5,1027.7 1179.6,1028.0 1181.7,1028.2 1183.8,1028.4 1185.9,1028.8 1188.1,1029.0 1190.2,1029.0 1192.3,1028.9 1194.4,1028.5 1196.5,1028.3 1198.6,1028.3 1200.8,1028.2 1202.9,1028.1 1205.0,1027.9 1207.1,1027.9 1209.2,1028.0 1211.3,1028.0 1213.5,1028.0 1215.6,1027.9 1217.7,1027.6 1219.8,1027.4 1221.9,1027.4 1224.0,1027.5 1226.2,1027.7 1228.3,1028.1 1230.4,1028.4 1232.5,1028.4 1234.6,1028.2 1236.7,1027.8 1238.8,1027.4 1241.0,1027.4 1243.1,1027.5 1245.2,1027.6 1247.3,1027.8 1249.4,1028.1 1251.5,1028.3 1253.7,1028.5 1255.8,1028.5 1257.9,1028.2 1260.0,1027.8 1262.1,1027.3 1264.2,1027.0 1266.4,1026.7 1268.5,1026.4 1270.6,1026.1 1272.7,1025.3 1274.8,1024.4 1276.9,1023.7 1278.9,1023.5 1281.2,1024.2 1283.3,1025.5 1285.4,1026.6 1287.5,1027.2 1289.6,1027.4 1291.7,1027.3 1293.9,1027.3 1296.0,1027.3 1298.1,1027.5 1300.2,1027.6 1302.3,1027.5 1304.4,1027.7 1306.6,1027.9 1308.7,1028.2 1310.8,1028.6 1312.9,1028.7 1315.0,1028.5 1317.1,1028.3 1319.3,1027.9 1321.4,1027.7 1323.5,1027.5 1325.6,1027.4 1327.7,1027.2 1329.8,1027.2 1332.0,1027.4 1334.1,1027.6 1336.2,1027.8 1338.3,1027.7 1340.4,1027.5 1342.5,1027.5 1344.6,1027.6 1346.8,1027.8 1348.9,1027.8 1351.0,1027.8 1353.1,1027.7 1355.2,1027.9 1357.3,1028.4 1359.5,1028.8 1361.6,1029.1 1363.7,1029.0 1365.8,1028.5 1367.9,1028.2 1370.0,1027.8 1372.2,1027.5 1374.3,1027.4 1376.4,1027.0 1378.5,1026.8 1380.6,1026.7 1382.7,1026.8 1384.9,1027.0 1387.0,1027.3 1389.1,1027.7 1391.2,1028.0 1393.3,1028.2 1395.4,1028.3 1397.5,1028.2 1399.7,1028.3 1401.8,1028.3 1403.9,1028.4 1406.0,1028.3 1408.1,1028.1 1410.2,1027.7 1412.4,1027.5 1414.5,1027.7 1416.6,1028.0 1418.7,1028.4 1420.8,1028.5 1422.9,1027.0 1425.1,1021.4 1426.7,1018.2 1429.3,1024.3 1431.4,1027.8 1433.5,1028.3 1435.6,1028.1 1437.8,1027.9 1439.9,1028.1 1442.0,1028.4 1444.1,1028.9 1446.2,1029.2 1448.3,1029.1 1450.4,1028.6 1452.6,1028.0 1454.7,1027.4 1456.8,1027.1 1458.9,1027.3 1461.0,1027.4 1463.1,1027.3 1465.3,1027.2 1467.4,1026.9 1469.5,1026.9 1471.6,1027.1 1473.7,1027.2 1475.8,1027.6 1478.0,1027.7 1480.1,1027.5 1482.2,1018.0 1484.3,898.8 1486.4,527.7 1487.7,401.6 1488.5,458.6 1490.7,837.8 1492.8,1009.0 1494.9,1027.3 1497.0,1028.1 1499.1,1027.8 1501.2,1027.7 1503.3,1027.4 1505.5,1027.3 1507.6,1027.4 1509.7,1026.3 1511.8,1017.7 1514.2,1005.7 1516.0,1014.2 1518.2,1025.8 1520.3,1028.2 1522.4,1028.3 1524.5,1028.0 1526.6,1027.7 1528.7,1027.7 1530.9,1027.1 1533.0,1023.8 1535.5,1018.5 1537.2,1021.3 1539.3,1026.2 1541.4,1027.3 1543.6,1027.5 1545.7,1027.7 1547.8,1027.9 1549.9,1028.1 1552.0,1028.1 1554.1,1027.9 1556.2,1027.6 1558.4,1027.3 1560.5,1027.4 1562.6,1027.5 1564.7,1022.6 1566.8,992.8 1569.0,960.7 1571.1,990.5 1573.2,1022.1 1575.3,1027.8 1577.4,1027.9 1579.5,1027.6 1581.6,1027.5 1583.8,1027.5 1585.9,1027.6 1588.0,1027.6 1590.1,1027.5 1592.2,1027.4 1594.3,1024.2 1596.5,1009.3 1598.4,996.8 1600.7,1012.1 1602.8,1024.8 1604.9,1027.2 1607.0,1027.6 1609.1,1027.8 1611.3,1027.9 1613.4,1027.6 1615.5,1027.3 1617.6,1026.9 1619.7,1026.8 1621.8,1026.7 1624.0,1025.8 1626.1,1015.1 1628.2,959.4 1630.3,863.9 1631.4,844.2 1632.4,862.4 1634.5,958.1 1636.7,1016.0 1638.8,1027.4 1640.9,1028.1 1643.0,1027.9 1645.1,1027.7 1647.2,1027.5 1649.4,1027.5 1651.5,1027.7 1653.6,1027.9 1655.7,1028.3 1657.8,1028.0 1659.9,1012.4 1662.0,832.5 1664.2,328.0 1665.3,192.5 1666.3,295.3 1668.4,802.3 1670.5,1004.7 1672.6,1021.7 1674.7,1020.2 1676.5,1019.5 1679.0,1020.7 1681.1,1022.6 1683.2,1010.2 1685.3,861.3 1687.4,493.3 1688.4,421.5 1689.6,523.0 1691.7,887.9 1693.8,1016.2 1695.9,1027.1 1698.0,1027.0 1700.1,1027.0 1702.3,1026.7 1704.4,1026.7 1706.5,1027.0 1708.6,1027.2 1710.7,1027.5 1712.8,1027.5 1714.9,1027.4 1717.1,1027.4 1719.2,1027.2 1721.3,1027.2 1723.4,1027.4 1725.5,1027.5 1727.6,1027.8 1729.8,1027.8 1731.9,1027.8 1734.0,1027.8 1736.1,1027.9 1738.2,1028.3 1740.3,1028.4 1742.5,1025.8 1744.6,1002.1 1747.4,948.7 1748.8,967.7 1750.9,1014.2 1753.0,1027.7 1755.2,1028.0 1757.3,1021.8 1759.4,995.2 1761.5,937.1 1764.1,886.3 1765.7,908.8 1767.8,971.2 1770.0,1012.6 1772.1,1025.1 1774.2,1026.9 1776.3,1026.9 1778.4,1026.8 1780.5,1026.8 1782.7,1025.3 1784.8,1008.9 1786.9,932.1 1789.0,780.7 1790.8,709.9 1793.2,829.5 1795.4,966.4 1797.5,1018.6 1799.6,1027.0 1801.7,1027.4 1803.8,1027.3 1805.9,1027.3 1808.1,1027.5 1810.2,1027.9 1812.3,1028.2 1814.4,1028.4 1816.5,1028.2 1818.6,1028.0 1820.7,1027.7 1822.9,1027.5 1825.0,1026.5 1827.1,1000.5 1829.2,828.7 1831.6,592.6 1833.4,754.5 1835.6,976.7 1837.7,1024.6 1839.8,1027.7 1841.9,1027.8 1844.0,1027.6 1846.1,1027.6 1848.3,1027.3 1850.4,1027.2 1852.5,1027.2 1854.6,1027.1 1856.7,1027.3 1858.8,1027.3 1861.0,1027.4 1863.1,1027.3 1865.2,1024.0 1867.3,1008.1 1869.4,967.2 1871.5,918.5 1872.8,907.3 1873.6,912.3 1875.8,956.3 1877.9,1001.9 1880.0,1022.5 1882.1,1027.2 1884.2,1027.9 1886.3,1027.9 1888.5,1027.7 1890.6,1027.7 1892.7,1027.1 1894.8,1024.3 1896.9,1014.4 1898.4,1010.2 1901.2,1021.6 1903.3,1027.1 1905.4,1027.8 1907.5,1027.7 1909.6,1027.7 1911.7,1027.6 1913.9,1027.6 1916.0,1027.7 1918.1,1027.6 1920.2,1027.7 1922.3,1027.5 1924.4,1027.1 1926.5,1026.8 1928.7,1026.5 1930.8,1026.5 1932.9,1026.7 1935.0,1027.0 1937.1,1027.3 1939.2,1027.6 1941.4,1027.9 1943.5,1028.0 1945.6,1028.3 1947.7,1028.3 1949.8,1028.1 1951.9,1028.0 1954.1,1027.5 1956.2,1027.4 1958.3,1027.3 1960.4,1027.2 1962.5,1027.2 1964.6,1027.3 1966.8,1027.6 1968.9,1027.7 1971.0,1028.1 1973.1,1028.1 1975.2,1028.0 1977.3,1027.8 1979.4,1027.5 1981.6,1027.2 1983.7,1027.0 1985.8,1026.9 1987.9,1026.8 1990.0,1027.1 1992.1,1027.2 1994.3,1027.3 1996.4,1027.4 1998.5,1027.3 2000.6,1027.2 2002.7,1027.3 2004.8,1027.3 2007.0,1027.3 2009.1,1027.6 2011.2,1027.6 2013.3,1027.5 2015.4,1027.6 2017.5,1027.5 2019.7,1027.6 2021.8,1027.9 2023.9,1027.9 2026.0,1027.9 2028.1,1027.8 2030.2,1027.5 2032.3,1027.4 2034.5,1027.4 2036.6,1027.5 2038.7,1027.7 2040.8,1027.9 2042.9,1028.1 2045.0,1028.0 2047.2,1028.1 2049.3,1028.2 2051.4,1027.5 2053.5,1010.8 2055.6,877.7 2058.3,626.9 2059.9,739.8 2062.0,963.9 2064.1,1022.8 2066.2,1027.0 2068.3,1027.2 2070.4,1027.2 2072.6,1027.2 2074.7,1027.3 2076.8,1027.2 2078.9,1026.6 2081.0,1020.7 2083.1,1007.4 2084.0,1005.6 2085.2,1010.1 2087.4,1023.6 2089.5,1028.1 2091.6,1028.2 2093.7,1027.9 2095.8,1027.5 2097.9,1027.3 2100.1,1027.0 2102.2,1027.1 2104.3,1027.1 2106.4,1027.2 2108.5,1027.4 2110.6,1027.4 2112.8,1027.6 2114.9,1027.7 2117.0,1027.8 2119.1,1027.9 2121.2,1027.9 2123.3,1028.2 2125.5,1028.3 2127.6,1028.4 2129.7,1028.5 2131.8,1028.3 2133.9,1028.2 2136.0,1028.1 2138.1,1027.7 2140.3,1027.5 2142.4,1027.4 2144.5,1027.4 2146.6,1027.6 2148.7,1027.8 2150.8,1027.9 2153.0,1027.8 2155.1,1027.6 2157.2,1027.4 2159.3,1027.2 2161.4,1027.0"/>
<line x1="460.9" y1="247.6" x2="460.9" y2="616.5" stroke="#B177DE" stroke-width="3"/>
<line x1="535.0" y1="594.6" x2="535.0" y2="894.8" stroke="#B177DE" stroke-width="3"/>
<line x1="589.0" y1="763.6" x2="589.0" y2="927.5" stroke="#B177DE" stroke-width="3"/>
<line x1="1487.7" y1="405.3" x2="1487.7" y2="714.6" stroke="#B177DE" stroke-width="3"/>
<line x1="1631.4" y1="847.9" x2="1631.4" y2="987.2" stroke="#B177DE" stroke-width="3"/>
<line x1="1665.3" y1="194.6" x2="1665.3" y2="576.0" stroke="#B177DE" stroke-width="3"/>
<line x1="1688.4" y1="424.5" x2="1688.4" y2="728.1" stroke="#B177DE" stroke-width="3"/>
<line x1="1764.1" y1="888.7" x2="1764.1" y2="987.2" stroke="#B177DE" stroke-width="3"/>
<line x1="1790.8" y1="712.9" x2="1790.8" y2="925.2" stroke="#B177DE" stroke-width="3"/>
<line x1="1831.6" y1="596.1" x2="1831.6" y2="840.7" stroke="#B177DE" stroke-width="3"/>
<line x1="1872.8" y1="910.7" x2="1872.8" y2="987.2" stroke="#B177DE" stroke-width="3"/>
<line x1="2058.3" y1="630.4" x2="2058.3" y2="868.9" stroke="#B177DE" stroke-width="3"/>
</g>
<g id="axes" fill="#000" shape-rendering="crispEdges">
<rect x="301" y="64" width="1890" height="12"/>
<rect x="277" y="1585" width="1914" height="12"/>
<rect x="301" y="64" width="11" height="1543"/>
<rect x="2179" y="64" width="12" height="1533"/>
<rect x="433" y="1597" width="12" height="25"/>
<rect x="565" y="1597" width="12" height="10"/>
<rect x="698" y="1597" width="12" height="25"/>
<rect x="830" y="1597" width="12" height="10"/>
<rect x="962" y="1597" width="12" height="25"/>
<rect x="1094" y="1597" width="12" height="10"/>
<rect x="1226" y="1597" width="12" height="25"/>
<rect x="1359" y="1597" width="12" height="10"/>
<rect x="1491" y="1597" width="12" height="25"/>
<rect x="1623" y="1597" width="12" height="10"/>
<rect x="1756" y="1597" width="12" height="25"/>
<rect x="1888" y="1597" width="12" height="10"/>
<rect x="2020" y="1597" width="12" height="25"/>
<rect x="2152" y="1597" width="12" height="10"/>
<rect x="292" y="1472" width="9" height="12"/>
<rect x="277" y="1360" width="24" height="12"/>
<rect x="292" y="1247" width="9" height="12"/>
<rect x="277" y="1134" width="24" height="12"/>
<rect x="292" y="1022" width="9" height="12"/>
<rect x="277" y="909" width="24" height="12"/>
<rect x="292" y="796" width="9" height="12"/>
<rect x="277" y="684" width="24" height="12"/>
<rect x="292" y="571" width="9" height="12"/>
<rect x="277" y="458" width="24" height="12"/>
<rect x="292" y="346" width="9" height="12"/>
<rect x="277" y="233" width="24" height="12"/>
<rect x="292" y="120" width="9" height="12"/>
</g>
<g id="ticklabels" font-family="'Liberation Sans',Arial,sans-serif" font-weight="700" font-size="82" fill="#000">
<text transform="translate(439.0,1704.2) scale(0.944,1)" text-anchor="middle">300</text>
<text transform="translate(703.5,1704.2) scale(0.944,1)" text-anchor="middle">400</text>
<text transform="translate(968.0,1704.2) scale(0.944,1)" text-anchor="middle">500</text>
<text transform="translate(1232.5,1704.2) scale(0.944,1)" text-anchor="middle">600</text>
<text transform="translate(1497.0,1704.2) scale(0.944,1)" text-anchor="middle">700</text>
<text transform="translate(1761.5,1704.2) scale(0.944,1)" text-anchor="middle">800</text>
<text transform="translate(2026.0,1704.2) scale(0.944,1)" text-anchor="middle">900</text>
<text transform="translate(256.4,1614.0) scale(0.942,1)" text-anchor="end">0</text>
<text transform="translate(256.4,1388.7) scale(0.942,1)" text-anchor="end">2</text>
<text transform="translate(256.4,1163.3) scale(0.942,1)" text-anchor="end">4</text>
<text transform="translate(256.4,938.0) scale(0.942,1)" text-anchor="end">6</text>
<text transform="translate(256.4,712.6) scale(0.942,1)" text-anchor="end">8</text>
<text transform="translate(256.4,487.3) scale(0.942,1)" text-anchor="end">10</text>
<rect transform="translate(256.4,487.3) scale(0.942,1)" x="-87.11" y="-9.35" width="14.96" height="10.50" fill="#fff"/><rect transform="translate(256.4,487.3) scale(0.942,1)" x="-60.75" y="-9.35" width="13.82" height="10.50" fill="#fff"/>
<text transform="translate(256.4,262.0) scale(0.942,1)" text-anchor="end">12</text>
<rect transform="translate(256.4,262.0) scale(0.942,1)" x="-87.11" y="-9.35" width="14.96" height="10.50" fill="#fff"/><rect transform="translate(256.4,262.0) scale(0.942,1)" x="-60.75" y="-9.35" width="13.82" height="10.50" fill="#fff"/>
</g>
<g id="titles" font-weight="700" fill="#000">
<text transform="translate(1055.8,1818.7) scale(0.9840,1)" font-family="'Liberation Serif','Times New Roman',serif" font-size="143.9">λ</text>
<text transform="translate(1156.2,1805.9) scale(1.2400,1)" font-family="'Liberation Serif','Times New Roman',serif" font-size="113.9">(</text>
<text transform="translate(1202.6,1816.2) scale(0.9757,1)" font-family="'Liberation Sans',Arial,sans-serif" font-size="130.0">nm</text>
<text transform="translate(1393.3,1805.9) scale(1.1850,1)" font-family="'Liberation Serif','Times New Roman',serif" font-size="113.9">)</text>
<text transform="translate(155.0,1594.2) rotate(-90) scale(0.9886,1)" font-family="'Liberation Sans',Arial,sans-serif" font-size="132.0">Intensity</text>
<text transform="translate(155.0,1026.7) rotate(-90) scale(0.8820,1)" font-family="'Liberation Sans',Arial,sans-serif" font-size="131.0">x</text>
<text transform="translate(155.0,967.3) rotate(-90) scale(1.0048,1)" font-family="'Liberation Sans',Arial,sans-serif" font-size="132.5">10</text>
<rect transform="translate(155.0,967.3) rotate(-90) scale(1.0048,1)" x="6.62" y="-15.11" width="24.18" height="16.96" fill="#fff"/><rect transform="translate(155.0,967.3) rotate(-90) scale(1.0048,1)" x="49.22" y="-15.11" width="22.33" height="16.96" fill="#fff"/>
<text transform="translate(102.9,816.6) rotate(-90) scale(0.8910,1)" font-family="'Liberation Sans',Arial,sans-serif" font-size="93.4">3</text>
<text transform="translate(153.1,736.2) rotate(-90) scale(0.9640,1)" font-family="'Liberation Serif','Times New Roman',serif" font-size="132.6">(</text>
<text transform="translate(155.0,693.2) rotate(-90) scale(0.9910,1)" font-family="'Liberation Sans',Arial,sans-serif" font-size="130.0">arb. units</text>
<text transform="translate(153.1,109.5) rotate(-90) scale(0.9510,1)" font-family="'Liberation Serif','Times New Roman',serif" font-size="132.6">)</text>
</g>
<g id="peaklabels" font-family="'Liberation Serif','Times New Roman',serif" font-weight="700" font-size="55.6" fill="#000">
<text transform="translate(441.0,367.0) rotate(-90) scale(0.988,1)">Ar II 309.34</text>
<text transform="translate(555.3,588.6) rotate(-90) scale(0.988,1)">Ar II 336.66</text>
<text transform="translate(610.6,755.5) rotate(-90) scale(0.988,1)">Ar II 356.50</text>
<text transform="translate(675.0,944.8) rotate(-90) scale(0.988,1)">Ar II 379.94</text>
<text transform="translate(737.0,1002.2) rotate(-90) scale(0.988,1)">Ar II 405.29</text>
<text transform="translate(1505.0,391.6) rotate(-90) scale(0.983,1)">Ar I 696.54</text>
<text transform="translate(1540.6,974.4) rotate(-90) scale(0.983,1)">Ar I 706.72</text>
<text transform="translate(1587.0,948.3) rotate(-90) scale(0.983,1)">Ar I 727.29</text>
<text transform="translate(1653.5,399.8) rotate(-90) scale(0.983,1)">Ar I 763.51</text>
<text transform="translate(1729.4,408.9) rotate(-90) scale(0.983,1)">Ar I 772.42</text>
<text transform="translate(1737.3,947.2) rotate(-90) scale(0.983,1)">Ar I 794.82</text>
<text transform="translate(1779.6,882.5) rotate(-90) scale(0.983,1)">Ar I 800.62</text>
<text transform="translate(1814.5,670.5) rotate(-90) scale(0.983,1)">Ar I 811.53</text>
<text transform="translate(1852.6,582.5) rotate(-90) scale(0.983,1)">Ar I 826.45</text>
<text transform="translate(1899.2,889.4) rotate(-90) scale(0.983,1)">Ar I 842.46</text>
<text transform="translate(1944.0,1004.8) rotate(-90) scale(0.983,1)">Ar I 852.14</text>
<text transform="translate(2075.0,615.6) rotate(-90) scale(0.983,1)">Ar I 912.30</text>
<text transform="translate(2127.0,978.5) rotate(-90) scale(1.0,1)">N<tspan font-size="38" dy="14.5">2</tspan><tspan dy="-14.5"> 920.39</tspan></text>
</g>
<g id="legend" font-weight="700">
<text transform="translate(867.3,915.8) scale(1.019,1)" font-family="'Liberation Serif','Times New Roman',serif" font-size="70.1" fill="#000">Gas flow rate</text>
<text transform="translate(1067.0,995.0) scale(0.958,1)" text-anchor="middle" font-family="'Liberation Sans',Arial,sans-serif" font-size="67" fill="#800080">5 L/min</text>
<text transform="translate(1063.0,1119.0) scale(0.958,1)" text-anchor="middle" font-family="'Liberation Sans',Arial,sans-serif" font-size="67" fill="#008000">4 L/min</text>
<text transform="translate(1071.0,1232.0) scale(0.958,1)" text-anchor="middle" font-family="'Liberation Sans',Arial,sans-serif" font-size="67" fill="#0000FF">3 L/min</text>
<text transform="translate(1074.2,1343.0) scale(0.958,1)" text-anchor="middle" font-family="'Liberation Sans',Arial,sans-serif" font-size="67" fill="#FF0000">2 L/min</text>
<text transform="translate(1070.0,1457.0) scale(0.958,1)" text-anchor="middle" font-family="'Liberation Sans',Arial,sans-serif" font-size="67" fill="#000000">1 L/min</text>
<rect transform="translate(1070.0,1457.0) scale(0.958,1)" x="-113.92" y="-7.64" width="12.23" height="8.58" fill="#fff"/><rect transform="translate(1070.0,1457.0) scale(0.958,1)" x="-92.38" y="-7.64" width="11.29" height="8.58" fill="#fff"/>
</g>
</svg></body></html>
